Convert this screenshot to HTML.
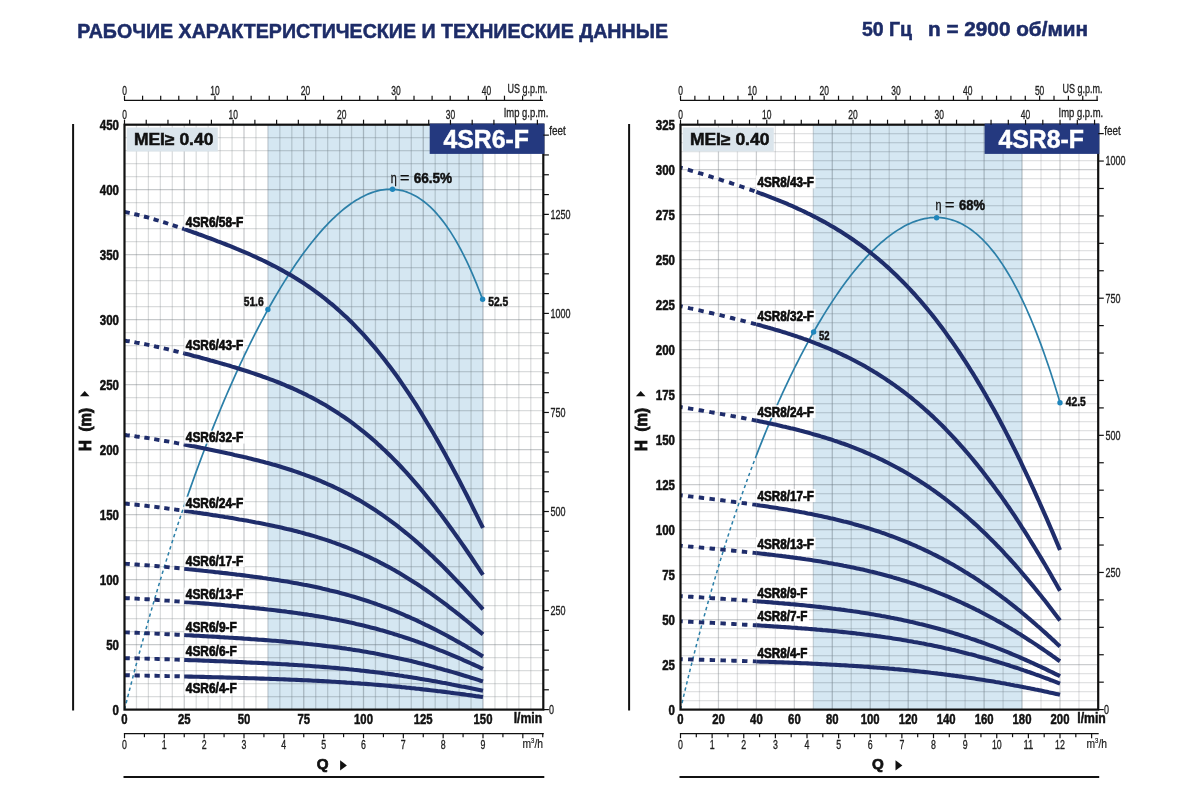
<!DOCTYPE html>
<html lang="ru"><head><meta charset="utf-8"><title>4SR6-F / 4SR8-F</title>
<style>html,body{margin:0;padding:0;background:#fff}body{width:1200px;height:800px;overflow:hidden;font-family:"Liberation Sans",sans-serif}svg{display:block}</style>
</head><body>
<svg width="1200" height="800" viewBox="0 0 1200 800" font-family="'Liberation Sans', sans-serif">
<rect width="1200" height="800" fill="#fff"/>
<text x="77.3" y="38.0" font-size="19.7" font-weight="bold" stroke="#1d2c68" stroke-width="0.5" textLength="590.7" lengthAdjust="spacingAndGlyphs" fill="#1d2c68">РАБОЧИЕ ХАРАКТЕРИСТИЧЕСКИЕ И ТЕХНИЕСКИЕ ДАННЫЕ</text>
<text x="861.9" y="36.0" font-size="19.4" font-weight="bold" stroke="#1d2c68" stroke-width="0.5" textLength="50.0" lengthAdjust="spacingAndGlyphs" fill="#1d2c68">50 Гц</text>
<text x="928.0" y="36.0" font-size="19.4" font-weight="bold" stroke="#1d2c68" stroke-width="0.5" textLength="160.0" lengthAdjust="spacingAndGlyphs" fill="#1d2c68">n = 2900 об/мин</text>
<rect x="267.9" y="124.7" width="215.1" height="584.9" fill="#d5e7f2"/>
<g stroke-width="1.25"><line x1="136.45" y1="124.7" x2="136.45" y2="709.6" stroke="#868b90" stroke-opacity="0.3"/><line x1="148.40" y1="124.7" x2="148.40" y2="709.6" stroke="#868b90" stroke-opacity="0.3"/><line x1="160.35" y1="124.7" x2="160.35" y2="709.6" stroke="#868b90" stroke-opacity="0.3"/><line x1="172.30" y1="124.7" x2="172.30" y2="709.6" stroke="#868b90" stroke-opacity="0.3"/><line x1="184.25" y1="124.7" x2="184.25" y2="709.6" stroke="#6a7076" stroke-opacity="0.38"/><line x1="196.20" y1="124.7" x2="196.20" y2="709.6" stroke="#868b90" stroke-opacity="0.3"/><line x1="208.15" y1="124.7" x2="208.15" y2="709.6" stroke="#868b90" stroke-opacity="0.3"/><line x1="220.10" y1="124.7" x2="220.10" y2="709.6" stroke="#868b90" stroke-opacity="0.3"/><line x1="232.05" y1="124.7" x2="232.05" y2="709.6" stroke="#868b90" stroke-opacity="0.3"/><line x1="244.00" y1="124.7" x2="244.00" y2="709.6" stroke="#6a7076" stroke-opacity="0.38"/><line x1="255.95" y1="124.7" x2="255.95" y2="709.6" stroke="#868b90" stroke-opacity="0.3"/><line x1="267.90" y1="124.7" x2="267.90" y2="709.6" stroke="#868b90" stroke-opacity="0.3"/><line x1="279.85" y1="124.7" x2="279.85" y2="709.6" stroke="#868b90" stroke-opacity="0.3"/><line x1="291.80" y1="124.7" x2="291.80" y2="709.6" stroke="#868b90" stroke-opacity="0.3"/><line x1="303.75" y1="124.7" x2="303.75" y2="709.6" stroke="#6a7076" stroke-opacity="0.38"/><line x1="315.70" y1="124.7" x2="315.70" y2="709.6" stroke="#868b90" stroke-opacity="0.3"/><line x1="327.65" y1="124.7" x2="327.65" y2="709.6" stroke="#868b90" stroke-opacity="0.3"/><line x1="339.60" y1="124.7" x2="339.60" y2="709.6" stroke="#868b90" stroke-opacity="0.3"/><line x1="351.55" y1="124.7" x2="351.55" y2="709.6" stroke="#868b90" stroke-opacity="0.3"/><line x1="363.50" y1="124.7" x2="363.50" y2="709.6" stroke="#6a7076" stroke-opacity="0.38"/><line x1="375.45" y1="124.7" x2="375.45" y2="709.6" stroke="#868b90" stroke-opacity="0.3"/><line x1="387.40" y1="124.7" x2="387.40" y2="709.6" stroke="#868b90" stroke-opacity="0.3"/><line x1="399.35" y1="124.7" x2="399.35" y2="709.6" stroke="#868b90" stroke-opacity="0.3"/><line x1="411.30" y1="124.7" x2="411.30" y2="709.6" stroke="#868b90" stroke-opacity="0.3"/><line x1="423.25" y1="124.7" x2="423.25" y2="709.6" stroke="#6a7076" stroke-opacity="0.38"/><line x1="435.20" y1="124.7" x2="435.20" y2="709.6" stroke="#868b90" stroke-opacity="0.3"/><line x1="447.15" y1="124.7" x2="447.15" y2="709.6" stroke="#868b90" stroke-opacity="0.3"/><line x1="459.10" y1="124.7" x2="459.10" y2="709.6" stroke="#868b90" stroke-opacity="0.3"/><line x1="471.05" y1="124.7" x2="471.05" y2="709.6" stroke="#868b90" stroke-opacity="0.3"/><line x1="483.00" y1="124.7" x2="483.00" y2="709.6" stroke="#6a7076" stroke-opacity="0.38"/><line x1="494.95" y1="124.7" x2="494.95" y2="709.6" stroke="#868b90" stroke-opacity="0.3"/><line x1="506.90" y1="124.7" x2="506.90" y2="709.6" stroke="#868b90" stroke-opacity="0.3"/><line x1="518.85" y1="124.7" x2="518.85" y2="709.6" stroke="#868b90" stroke-opacity="0.3"/><line x1="530.80" y1="124.7" x2="530.80" y2="709.6" stroke="#868b90" stroke-opacity="0.3"/><line x1="124.5" y1="696.60" x2="543.3" y2="696.60" stroke="#868b90" stroke-opacity="0.3"/><line x1="124.5" y1="683.60" x2="543.3" y2="683.60" stroke="#868b90" stroke-opacity="0.3"/><line x1="124.5" y1="670.61" x2="543.3" y2="670.61" stroke="#868b90" stroke-opacity="0.3"/><line x1="124.5" y1="657.61" x2="543.3" y2="657.61" stroke="#868b90" stroke-opacity="0.3"/><line x1="124.5" y1="644.61" x2="543.3" y2="644.61" stroke="#6a7076" stroke-opacity="0.38"/><line x1="124.5" y1="631.61" x2="543.3" y2="631.61" stroke="#868b90" stroke-opacity="0.3"/><line x1="124.5" y1="618.61" x2="543.3" y2="618.61" stroke="#868b90" stroke-opacity="0.3"/><line x1="124.5" y1="605.62" x2="543.3" y2="605.62" stroke="#868b90" stroke-opacity="0.3"/><line x1="124.5" y1="592.62" x2="543.3" y2="592.62" stroke="#868b90" stroke-opacity="0.3"/><line x1="124.5" y1="579.62" x2="543.3" y2="579.62" stroke="#6a7076" stroke-opacity="0.38"/><line x1="124.5" y1="566.62" x2="543.3" y2="566.62" stroke="#868b90" stroke-opacity="0.3"/><line x1="124.5" y1="553.62" x2="543.3" y2="553.62" stroke="#868b90" stroke-opacity="0.3"/><line x1="124.5" y1="540.63" x2="543.3" y2="540.63" stroke="#868b90" stroke-opacity="0.3"/><line x1="124.5" y1="527.63" x2="543.3" y2="527.63" stroke="#868b90" stroke-opacity="0.3"/><line x1="124.5" y1="514.63" x2="543.3" y2="514.63" stroke="#6a7076" stroke-opacity="0.38"/><line x1="124.5" y1="501.63" x2="543.3" y2="501.63" stroke="#868b90" stroke-opacity="0.3"/><line x1="124.5" y1="488.63" x2="543.3" y2="488.63" stroke="#868b90" stroke-opacity="0.3"/><line x1="124.5" y1="475.64" x2="543.3" y2="475.64" stroke="#868b90" stroke-opacity="0.3"/><line x1="124.5" y1="462.64" x2="543.3" y2="462.64" stroke="#868b90" stroke-opacity="0.3"/><line x1="124.5" y1="449.64" x2="543.3" y2="449.64" stroke="#6a7076" stroke-opacity="0.38"/><line x1="124.5" y1="436.64" x2="543.3" y2="436.64" stroke="#868b90" stroke-opacity="0.3"/><line x1="124.5" y1="423.64" x2="543.3" y2="423.64" stroke="#868b90" stroke-opacity="0.3"/><line x1="124.5" y1="410.65" x2="543.3" y2="410.65" stroke="#868b90" stroke-opacity="0.3"/><line x1="124.5" y1="397.65" x2="543.3" y2="397.65" stroke="#868b90" stroke-opacity="0.3"/><line x1="124.5" y1="384.65" x2="543.3" y2="384.65" stroke="#6a7076" stroke-opacity="0.38"/><line x1="124.5" y1="371.65" x2="543.3" y2="371.65" stroke="#868b90" stroke-opacity="0.3"/><line x1="124.5" y1="358.65" x2="543.3" y2="358.65" stroke="#868b90" stroke-opacity="0.3"/><line x1="124.5" y1="345.66" x2="543.3" y2="345.66" stroke="#868b90" stroke-opacity="0.3"/><line x1="124.5" y1="332.66" x2="543.3" y2="332.66" stroke="#868b90" stroke-opacity="0.3"/><line x1="124.5" y1="319.66" x2="543.3" y2="319.66" stroke="#6a7076" stroke-opacity="0.38"/><line x1="124.5" y1="306.66" x2="543.3" y2="306.66" stroke="#868b90" stroke-opacity="0.3"/><line x1="124.5" y1="293.66" x2="543.3" y2="293.66" stroke="#868b90" stroke-opacity="0.3"/><line x1="124.5" y1="280.67" x2="543.3" y2="280.67" stroke="#868b90" stroke-opacity="0.3"/><line x1="124.5" y1="267.67" x2="543.3" y2="267.67" stroke="#868b90" stroke-opacity="0.3"/><line x1="124.5" y1="254.67" x2="543.3" y2="254.67" stroke="#6a7076" stroke-opacity="0.38"/><line x1="124.5" y1="241.67" x2="543.3" y2="241.67" stroke="#868b90" stroke-opacity="0.3"/><line x1="124.5" y1="228.67" x2="543.3" y2="228.67" stroke="#868b90" stroke-opacity="0.3"/><line x1="124.5" y1="215.68" x2="543.3" y2="215.68" stroke="#868b90" stroke-opacity="0.3"/><line x1="124.5" y1="202.68" x2="543.3" y2="202.68" stroke="#868b90" stroke-opacity="0.3"/><line x1="124.5" y1="189.68" x2="543.3" y2="189.68" stroke="#6a7076" stroke-opacity="0.38"/><line x1="124.5" y1="176.68" x2="543.3" y2="176.68" stroke="#868b90" stroke-opacity="0.3"/><line x1="124.5" y1="163.68" x2="543.3" y2="163.68" stroke="#868b90" stroke-opacity="0.3"/><line x1="124.5" y1="150.69" x2="543.3" y2="150.69" stroke="#868b90" stroke-opacity="0.3"/><line x1="124.5" y1="137.69" x2="543.3" y2="137.69" stroke="#868b90" stroke-opacity="0.3"/></g>
<g stroke="#4f7290" stroke-opacity="0.08" stroke-width="1.25"><line x1="267.90" y1="124.7" x2="267.90" y2="709.6"/><line x1="279.85" y1="124.7" x2="279.85" y2="709.6"/><line x1="291.80" y1="124.7" x2="291.80" y2="709.6"/><line x1="303.75" y1="124.7" x2="303.75" y2="709.6"/><line x1="315.70" y1="124.7" x2="315.70" y2="709.6"/><line x1="327.65" y1="124.7" x2="327.65" y2="709.6"/><line x1="339.60" y1="124.7" x2="339.60" y2="709.6"/><line x1="351.55" y1="124.7" x2="351.55" y2="709.6"/><line x1="363.50" y1="124.7" x2="363.50" y2="709.6"/><line x1="375.45" y1="124.7" x2="375.45" y2="709.6"/><line x1="387.40" y1="124.7" x2="387.40" y2="709.6"/><line x1="399.35" y1="124.7" x2="399.35" y2="709.6"/><line x1="411.30" y1="124.7" x2="411.30" y2="709.6"/><line x1="423.25" y1="124.7" x2="423.25" y2="709.6"/><line x1="435.20" y1="124.7" x2="435.20" y2="709.6"/><line x1="447.15" y1="124.7" x2="447.15" y2="709.6"/><line x1="459.10" y1="124.7" x2="459.10" y2="709.6"/><line x1="471.05" y1="124.7" x2="471.05" y2="709.6"/><line x1="483.00" y1="124.7" x2="483.00" y2="709.6"/><line x1="267.90" y1="696.60" x2="483.00" y2="696.60"/><line x1="267.90" y1="683.60" x2="483.00" y2="683.60"/><line x1="267.90" y1="670.61" x2="483.00" y2="670.61"/><line x1="267.90" y1="657.61" x2="483.00" y2="657.61"/><line x1="267.90" y1="644.61" x2="483.00" y2="644.61"/><line x1="267.90" y1="631.61" x2="483.00" y2="631.61"/><line x1="267.90" y1="618.61" x2="483.00" y2="618.61"/><line x1="267.90" y1="605.62" x2="483.00" y2="605.62"/><line x1="267.90" y1="592.62" x2="483.00" y2="592.62"/><line x1="267.90" y1="579.62" x2="483.00" y2="579.62"/><line x1="267.90" y1="566.62" x2="483.00" y2="566.62"/><line x1="267.90" y1="553.62" x2="483.00" y2="553.62"/><line x1="267.90" y1="540.63" x2="483.00" y2="540.63"/><line x1="267.90" y1="527.63" x2="483.00" y2="527.63"/><line x1="267.90" y1="514.63" x2="483.00" y2="514.63"/><line x1="267.90" y1="501.63" x2="483.00" y2="501.63"/><line x1="267.90" y1="488.63" x2="483.00" y2="488.63"/><line x1="267.90" y1="475.64" x2="483.00" y2="475.64"/><line x1="267.90" y1="462.64" x2="483.00" y2="462.64"/><line x1="267.90" y1="449.64" x2="483.00" y2="449.64"/><line x1="267.90" y1="436.64" x2="483.00" y2="436.64"/><line x1="267.90" y1="423.64" x2="483.00" y2="423.64"/><line x1="267.90" y1="410.65" x2="483.00" y2="410.65"/><line x1="267.90" y1="397.65" x2="483.00" y2="397.65"/><line x1="267.90" y1="384.65" x2="483.00" y2="384.65"/><line x1="267.90" y1="371.65" x2="483.00" y2="371.65"/><line x1="267.90" y1="358.65" x2="483.00" y2="358.65"/><line x1="267.90" y1="345.66" x2="483.00" y2="345.66"/><line x1="267.90" y1="332.66" x2="483.00" y2="332.66"/><line x1="267.90" y1="319.66" x2="483.00" y2="319.66"/><line x1="267.90" y1="306.66" x2="483.00" y2="306.66"/><line x1="267.90" y1="293.66" x2="483.00" y2="293.66"/><line x1="267.90" y1="280.67" x2="483.00" y2="280.67"/><line x1="267.90" y1="267.67" x2="483.00" y2="267.67"/><line x1="267.90" y1="254.67" x2="483.00" y2="254.67"/><line x1="267.90" y1="241.67" x2="483.00" y2="241.67"/><line x1="267.90" y1="228.67" x2="483.00" y2="228.67"/><line x1="267.90" y1="215.68" x2="483.00" y2="215.68"/><line x1="267.90" y1="202.68" x2="483.00" y2="202.68"/><line x1="267.90" y1="189.68" x2="483.00" y2="189.68"/><line x1="267.90" y1="176.68" x2="483.00" y2="176.68"/><line x1="267.90" y1="163.68" x2="483.00" y2="163.68"/><line x1="267.90" y1="150.69" x2="483.00" y2="150.69"/><line x1="267.90" y1="137.69" x2="483.00" y2="137.69"/></g>
<rect x="126.8" y="127.5" width="91" height="24" fill="#dbe5ec"/>
<text x="133.9" y="144.5" font-size="16.2" font-weight="bold" stroke="#111" stroke-width="0.5" textLength="79.5" lengthAdjust="spacingAndGlyphs" fill="#111">MEI≥ 0.40</text>
<path d="M124.5 709.5 L126.5 701.7 L128.5 693.9 L130.5 686.2 L132.5 678.6 L134.5 671.0 L136.5 663.5 L138.5 656.1 L140.5 648.8 L142.5 641.5 L144.5 634.4 L146.5 627.2 L148.5 620.2 L150.5 613.2 L152.5 606.3 L154.5 599.5 L156.5 592.7 L158.5 586.0 L160.5 579.4 L162.5 572.8 L164.5 566.3 L166.5 559.9 L168.5 553.5 L170.5 547.2 L172.5 541.0 L174.5 534.8 L176.5 528.7 L178.5 522.6 L180.5 516.6 L182.5 510.7 L184.5 504.9" fill="none" stroke="#2b7fa8" stroke-width="1.5" stroke-dasharray="3.4 3"/>
<path d="M184.5 504.9 L186.5 499.1 L188.5 493.3 L190.5 487.6 L192.5 482.0 L194.5 476.4 L196.5 470.9 L198.5 465.5 L200.5 460.1 L202.5 454.7 L204.5 449.5 L206.5 444.2 L208.5 439.1 L210.5 434.0 L212.5 428.9 L214.5 423.9 L216.5 419.0 L218.5 414.1 L220.5 409.2 L222.5 404.4 L224.5 399.7 L226.5 395.0 L228.5 390.4 L230.5 385.8 L232.5 381.3 L234.5 376.8 L236.5 372.4 L238.5 368.0 L240.5 363.7 L242.5 359.5 L244.5 355.2 L246.5 351.1 L248.5 347.0 L250.5 342.9 L252.5 338.9 L254.5 334.9 L256.5 331.0 L258.5 327.1 L260.5 323.3 L262.5 319.6 L264.5 315.8 L266.5 312.2 L268.5 308.5 L270.5 305.0 L272.5 301.5 L274.5 298.0 L276.5 294.6 L278.5 291.2 L280.5 287.9 L282.5 284.6 L284.5 281.4 L286.5 278.2 L288.5 275.1 L290.5 272.0 L292.5 269.0 L294.5 266.0 L296.5 263.0 L298.5 260.2 L300.5 257.3 L302.5 254.6 L304.5 251.8 L306.5 249.2 L308.5 246.5 L310.5 244.0 L312.5 241.5 L314.5 239.0 L316.5 236.6 L318.5 234.2 L320.5 231.9 L322.5 229.6 L324.5 227.4 L326.5 225.3 L328.5 223.2 L330.5 221.2 L332.5 219.2 L334.5 217.3 L336.5 215.4 L338.5 213.6 L340.5 211.9 L342.5 210.2 L344.5 208.5 L346.5 207.0 L348.5 205.5 L350.5 204.0 L352.5 202.6 L354.5 201.3 L356.5 200.0 L358.5 198.9 L360.5 197.7 L362.5 196.7 L364.5 195.7 L366.5 194.7 L368.5 193.9 L370.5 193.1 L372.5 192.4 L374.5 191.7 L376.5 191.1 L378.5 190.6 L380.5 190.2 L382.5 189.9 L384.5 189.6 L386.5 189.4 L388.5 189.3 L390.5 189.2 L392.5 189.3 L394.5 189.4 L396.5 189.6 L398.5 189.9 L400.5 190.3 L402.5 190.7 L404.5 191.3 L406.5 191.9 L408.5 192.7 L410.5 193.5 L412.5 194.4 L414.5 195.4 L416.5 196.5 L418.5 197.7 L420.5 199.1 L422.5 200.5 L424.5 202.0 L426.5 203.6 L428.5 205.3 L430.5 207.2 L432.5 209.1 L434.5 211.2 L436.5 213.4 L438.5 215.7 L440.5 218.1 L442.5 220.6 L444.5 223.2 L446.5 226.0 L448.5 228.9 L450.5 231.9 L452.5 235.1 L454.5 238.4 L456.5 241.8 L458.5 245.3 L460.5 249.0 L462.5 252.8 L464.5 256.8 L466.5 260.9 L468.5 265.2 L470.5 269.6 L472.5 274.1 L474.5 278.9 L476.5 283.7 L478.5 288.7 L480.5 293.9 L482.5 299.3" fill="none" stroke="#2b7fa8" stroke-width="1.7"/>
<circle cx="267.9" cy="309.5" r="2.7" fill="#1f86bc"/>
<circle cx="392.5" cy="189.2" r="2.7" fill="#1f86bc"/>
<circle cx="482.6" cy="299.3" r="2.7" fill="#1f86bc"/>
<path d="M124.5 211.9 L126.9 212.4 L129.3 212.9 L131.7 213.4 L134.1 214.0 L136.4 214.5 L138.8 215.1 L141.2 215.7 L143.6 216.4 L146.0 217.0 L148.4 217.7 L150.8 218.4 L153.2 219.1 L155.6 219.8 L158.0 220.5 L160.3 221.2 L162.7 222.0 L165.1 222.7 L167.5 223.5 L169.9 224.3 L172.3 225.1 L174.7 225.9 L177.1 226.7 L179.5 227.5 L181.9 228.3 L184.2 229.1" fill="none" stroke="#1f2d6b" stroke-width="3.9" stroke-dasharray="5.3 4.7" stroke-dashoffset="0"/>
<path d="M184.2 229.1 L186.6 229.9 L189.0 230.8 L191.4 231.6 L193.8 232.5 L196.2 233.3 L198.6 234.2 L201.0 235.0 L203.4 235.9 L205.8 236.8 L208.2 237.7 L210.5 238.5 L212.9 239.4 L215.3 240.3 L217.7 241.3 L220.1 242.2 L222.5 243.1 L224.9 244.0 L227.3 245.0 L229.7 245.9 L232.1 246.9 L234.4 247.9 L236.8 248.9 L239.2 249.8 L241.6 250.9 L244.0 251.9 L246.4 252.9 L248.8 253.9 L251.2 255.0 L253.6 256.1 L256.0 257.2 L258.3 258.3 L260.7 259.4 L263.1 260.5 L265.5 261.7 L267.9 262.9 L270.3 264.1 L272.7 265.3 L275.1 266.5 L277.5 267.8 L279.9 269.1 L282.2 270.4 L284.6 271.7 L287.0 273.1 L289.4 274.4 L291.8 275.8 L294.2 277.3 L296.6 278.7 L299.0 280.2 L301.4 281.8 L303.8 283.3 L306.1 284.9 L308.5 286.5 L310.9 288.2 L313.3 289.9 L315.7 291.6 L318.1 293.4 L320.5 295.2 L322.9 297.0 L325.3 298.9 L327.6 300.8 L330.0 302.8 L332.4 304.7 L334.8 306.8 L337.2 308.9 L339.6 311.0 L342.0 313.2 L344.4 315.4 L346.8 317.6 L349.2 319.9 L351.6 322.3 L353.9 324.7 L356.3 327.1 L358.7 329.6 L361.1 332.1 L363.5 334.7 L365.9 337.4 L368.3 340.0 L370.7 342.8 L373.1 345.6 L375.5 348.4 L377.8 351.3 L380.2 354.2 L382.6 357.2 L385.0 360.3 L387.4 363.4 L389.8 366.5 L392.2 369.7 L394.6 373.0 L397.0 376.3 L399.4 379.7 L401.7 383.1 L404.1 386.6 L406.5 390.1 L408.9 393.7 L411.3 397.3 L413.7 401.0 L416.1 404.7 L418.5 408.5 L420.9 412.4 L423.2 416.2 L425.6 420.2 L428.0 424.2 L430.4 428.2 L432.8 432.3 L435.2 436.5 L437.6 440.6 L440.0 444.9 L442.4 449.2 L444.8 453.5 L447.2 457.9 L449.5 462.3 L451.9 466.7 L454.3 471.2 L456.7 475.8 L459.1 480.3 L461.5 485.0 L463.9 489.6 L466.3 494.3 L468.7 499.0 L471.1 503.8 L473.4 508.6 L475.8 513.4 L478.2 518.2 L480.6 523.1 L483.0 527.9" fill="none" stroke="#1f2d6b" stroke-width="4.1"/>
<path d="M124.5 340.6 L126.9 341.0 L129.3 341.3 L131.7 341.7 L134.1 342.1 L136.4 342.6 L138.8 343.0 L141.2 343.5 L143.6 343.9 L146.0 344.4 L148.4 344.9 L150.8 345.4 L153.2 345.9 L155.6 346.5 L158.0 347.0 L160.3 347.5 L162.7 348.1 L165.1 348.7 L167.5 349.2 L169.9 349.8 L172.3 350.4 L174.7 351.0 L177.1 351.6 L179.5 352.2 L181.9 352.8 L184.2 353.4" fill="none" stroke="#1f2d6b" stroke-width="3.9" stroke-dasharray="5.3 4.7" stroke-dashoffset="0"/>
<path d="M184.2 353.4 L186.6 354.0 L189.0 354.6 L191.4 355.2 L193.8 355.9 L196.2 356.5 L198.6 357.1 L201.0 357.8 L203.4 358.4 L205.8 359.1 L208.2 359.7 L210.5 360.4 L212.9 361.0 L215.3 361.7 L217.7 362.4 L220.1 363.1 L222.5 363.8 L224.9 364.4 L227.3 365.1 L229.7 365.8 L232.1 366.6 L234.4 367.3 L236.8 368.0 L239.2 368.7 L241.6 369.5 L244.0 370.3 L246.4 371.0 L248.8 371.8 L251.2 372.6 L253.6 373.4 L256.0 374.2 L258.3 375.0 L260.7 375.8 L263.1 376.7 L265.5 377.5 L267.9 378.4 L270.3 379.3 L272.7 380.2 L275.1 381.1 L277.5 382.0 L279.9 383.0 L282.2 384.0 L284.6 384.9 L287.0 386.0 L289.4 387.0 L291.8 388.0 L294.2 389.1 L296.6 390.2 L299.0 391.3 L301.4 392.4 L303.8 393.6 L306.1 394.7 L308.5 396.0 L310.9 397.2 L313.3 398.4 L315.7 399.7 L318.1 401.0 L320.5 402.4 L322.9 403.7 L325.3 405.1 L327.6 406.5 L330.0 408.0 L332.4 409.5 L334.8 411.0 L337.2 412.5 L339.6 414.1 L342.0 415.7 L344.4 417.3 L346.8 419.0 L349.2 420.7 L351.6 422.4 L353.9 424.2 L356.3 426.0 L358.7 427.9 L361.1 429.8 L363.5 431.7 L365.9 433.6 L368.3 435.6 L370.7 437.6 L373.1 439.7 L375.5 441.8 L377.8 444.0 L380.2 446.1 L382.6 448.4 L385.0 450.6 L387.4 452.9 L389.8 455.3 L392.2 457.6 L394.6 460.1 L397.0 462.5 L399.4 465.0 L401.7 467.5 L404.1 470.1 L406.5 472.7 L408.9 475.4 L411.3 478.1 L413.7 480.8 L416.1 483.6 L418.5 486.4 L420.9 489.2 L423.2 492.1 L425.6 495.0 L428.0 498.0 L430.4 501.0 L432.8 504.0 L435.2 507.1 L437.6 510.2 L440.0 513.3 L442.4 516.5 L444.8 519.7 L447.2 523.0 L449.5 526.2 L451.9 529.5 L454.3 532.9 L456.7 536.2 L459.1 539.6 L461.5 543.1 L463.9 546.5 L466.3 550.0 L468.7 553.5 L471.1 557.0 L473.4 560.5 L475.8 564.1 L478.2 567.7 L480.6 571.3 L483.0 574.9" fill="none" stroke="#1f2d6b" stroke-width="4.1"/>
<path d="M124.5 435.0 L126.9 435.3 L129.3 435.5 L131.7 435.8 L134.1 436.1 L136.4 436.5 L138.8 436.8 L141.2 437.1 L143.6 437.5 L146.0 437.8 L148.4 438.2 L150.8 438.6 L153.2 439.0 L155.6 439.4 L158.0 439.8 L160.3 440.2 L162.7 440.6 L165.1 441.0 L167.5 441.4 L169.9 441.8 L172.3 442.3 L174.7 442.7 L177.1 443.2 L179.5 443.6 L181.9 444.0 L184.2 444.5" fill="none" stroke="#1f2d6b" stroke-width="3.9" stroke-dasharray="5.3 4.7" stroke-dashoffset="0"/>
<path d="M184.2 444.5 L186.6 445.0 L189.0 445.4 L191.4 445.9 L193.8 446.3 L196.2 446.8 L198.6 447.3 L201.0 447.8 L203.4 448.2 L205.8 448.7 L208.2 449.2 L210.5 449.7 L212.9 450.2 L215.3 450.7 L217.7 451.2 L220.1 451.7 L222.5 452.2 L224.9 452.7 L227.3 453.3 L229.7 453.8 L232.1 454.3 L234.4 454.9 L236.8 455.4 L239.2 455.9 L241.6 456.5 L244.0 457.1 L246.4 457.6 L248.8 458.2 L251.2 458.8 L253.6 459.4 L256.0 460.0 L258.3 460.6 L260.7 461.2 L263.1 461.8 L265.5 462.5 L267.9 463.1 L270.3 463.8 L272.7 464.5 L275.1 465.1 L277.5 465.8 L279.9 466.5 L282.2 467.3 L284.6 468.0 L287.0 468.7 L289.4 469.5 L291.8 470.3 L294.2 471.1 L296.6 471.9 L299.0 472.7 L301.4 473.6 L303.8 474.4 L306.1 475.3 L308.5 476.2 L310.9 477.1 L313.3 478.0 L315.7 479.0 L318.1 480.0 L320.5 480.9 L322.9 482.0 L325.3 483.0 L327.6 484.1 L330.0 485.1 L332.4 486.2 L334.8 487.4 L337.2 488.5 L339.6 489.7 L342.0 490.9 L344.4 492.1 L346.8 493.3 L349.2 494.6 L351.6 495.9 L353.9 497.2 L356.3 498.6 L358.7 499.9 L361.1 501.3 L363.5 502.8 L365.9 504.2 L368.3 505.7 L370.7 507.2 L373.1 508.8 L375.5 510.3 L377.8 511.9 L380.2 513.5 L382.6 515.2 L385.0 516.9 L387.4 518.6 L389.8 520.3 L392.2 522.1 L394.6 523.9 L397.0 525.7 L399.4 527.6 L401.7 529.5 L404.1 531.4 L406.5 533.3 L408.9 535.3 L411.3 537.3 L413.7 539.3 L416.1 541.4 L418.5 543.5 L420.9 545.6 L423.2 547.7 L425.6 549.9 L428.0 552.1 L430.4 554.4 L432.8 556.6 L435.2 558.9 L437.6 561.2 L440.0 563.5 L442.4 565.9 L444.8 568.3 L447.2 570.7 L449.5 573.1 L451.9 575.6 L454.3 578.1 L456.7 580.6 L459.1 583.1 L461.5 585.7 L463.9 588.2 L466.3 590.8 L468.7 593.4 L471.1 596.0 L473.4 598.7 L475.8 601.3 L478.2 604.0 L480.6 606.7 L483.0 609.4" fill="none" stroke="#1f2d6b" stroke-width="4.1"/>
<path d="M124.5 503.6 L126.9 503.8 L129.3 504.1 L131.7 504.3 L134.1 504.5 L136.4 504.7 L138.8 505.0 L141.2 505.2 L143.6 505.5 L146.0 505.8 L148.4 506.1 L150.8 506.3 L153.2 506.6 L155.6 506.9 L158.0 507.2 L160.3 507.5 L162.7 507.8 L165.1 508.1 L167.5 508.5 L169.9 508.8 L172.3 509.1 L174.7 509.4 L177.1 509.8 L179.5 510.1 L181.9 510.4 L184.2 510.8" fill="none" stroke="#1f2d6b" stroke-width="3.9" stroke-dasharray="5.3 4.7" stroke-dashoffset="0"/>
<path d="M184.2 510.8 L186.6 511.1 L189.0 511.5 L191.4 511.8 L193.8 512.2 L196.2 512.5 L198.6 512.9 L201.0 513.2 L203.4 513.6 L205.8 513.9 L208.2 514.3 L210.5 514.7 L212.9 515.1 L215.3 515.4 L217.7 515.8 L220.1 516.2 L222.5 516.6 L224.9 517.0 L227.3 517.3 L229.7 517.7 L232.1 518.1 L234.4 518.5 L236.8 518.9 L239.2 519.4 L241.6 519.8 L244.0 520.2 L246.4 520.6 L248.8 521.1 L251.2 521.5 L253.6 521.9 L256.0 522.4 L258.3 522.8 L260.7 523.3 L263.1 523.8 L265.5 524.3 L267.9 524.7 L270.3 525.2 L272.7 525.7 L275.1 526.3 L277.5 526.8 L279.9 527.3 L282.2 527.8 L284.6 528.4 L287.0 529.0 L289.4 529.5 L291.8 530.1 L294.2 530.7 L296.6 531.3 L299.0 531.9 L301.4 532.6 L303.8 533.2 L306.1 533.9 L308.5 534.5 L310.9 535.2 L313.3 535.9 L315.7 536.6 L318.1 537.4 L320.5 538.1 L322.9 538.9 L325.3 539.6 L327.6 540.4 L330.0 541.2 L332.4 542.1 L334.8 542.9 L337.2 543.8 L339.6 544.7 L342.0 545.6 L344.4 546.5 L346.8 547.4 L349.2 548.4 L351.6 549.3 L353.9 550.3 L356.3 551.3 L358.7 552.4 L361.1 553.4 L363.5 554.5 L365.9 555.6 L368.3 556.7 L370.7 557.8 L373.1 559.0 L375.5 560.1 L377.8 561.3 L380.2 562.6 L382.6 563.8 L385.0 565.1 L387.4 566.3 L389.8 567.6 L392.2 569.0 L394.6 570.3 L397.0 571.7 L399.4 573.1 L401.7 574.5 L404.1 575.9 L406.5 577.4 L408.9 578.9 L411.3 580.4 L413.7 581.9 L416.1 583.4 L418.5 585.0 L420.9 586.6 L423.2 588.2 L425.6 589.8 L428.0 591.5 L430.4 593.2 L432.8 594.9 L435.2 596.6 L437.6 598.3 L440.0 600.1 L442.4 601.8 L444.8 603.6 L447.2 605.4 L449.5 607.3 L451.9 609.1 L454.3 611.0 L456.7 612.8 L459.1 614.7 L461.5 616.6 L463.9 618.6 L466.3 620.5 L468.7 622.5 L471.1 624.4 L473.4 626.4 L475.8 628.4 L478.2 630.4 L480.6 632.4 L483.0 634.4" fill="none" stroke="#1f2d6b" stroke-width="4.1"/>
<path d="M124.5 563.7 L126.9 563.9 L129.3 564.0 L131.7 564.2 L134.1 564.3 L136.4 564.5 L138.8 564.7 L141.2 564.8 L143.6 565.0 L146.0 565.2 L148.4 565.4 L150.8 565.6 L153.2 565.8 L155.6 566.0 L158.0 566.2 L160.3 566.5 L162.7 566.7 L165.1 566.9 L167.5 567.1 L169.9 567.4 L172.3 567.6 L174.7 567.8 L177.1 568.0 L179.5 568.3 L181.9 568.5 L184.2 568.8" fill="none" stroke="#1f2d6b" stroke-width="3.9" stroke-dasharray="5.3 4.7" stroke-dashoffset="0"/>
<path d="M184.2 568.8 L186.6 569.0 L189.0 569.3 L191.4 569.5 L193.8 569.7 L196.2 570.0 L198.6 570.2 L201.0 570.5 L203.4 570.8 L205.8 571.0 L208.2 571.3 L210.5 571.5 L212.9 571.8 L215.3 572.1 L217.7 572.3 L220.1 572.6 L222.5 572.9 L224.9 573.1 L227.3 573.4 L229.7 573.7 L232.1 574.0 L234.4 574.3 L236.8 574.6 L239.2 574.8 L241.6 575.1 L244.0 575.4 L246.4 575.7 L248.8 576.0 L251.2 576.4 L253.6 576.7 L256.0 577.0 L258.3 577.3 L260.7 577.6 L263.1 578.0 L265.5 578.3 L267.9 578.7 L270.3 579.0 L272.7 579.4 L275.1 579.7 L277.5 580.1 L279.9 580.5 L282.2 580.9 L284.6 581.2 L287.0 581.6 L289.4 582.1 L291.8 582.5 L294.2 582.9 L296.6 583.3 L299.0 583.8 L301.4 584.2 L303.8 584.7 L306.1 585.1 L308.5 585.6 L310.9 586.1 L313.3 586.6 L315.7 587.1 L318.1 587.6 L320.5 588.1 L322.9 588.7 L325.3 589.2 L327.6 589.8 L330.0 590.4 L332.4 590.9 L334.8 591.5 L337.2 592.1 L339.6 592.8 L342.0 593.4 L344.4 594.0 L346.8 594.7 L349.2 595.4 L351.6 596.1 L353.9 596.8 L356.3 597.5 L358.7 598.2 L361.1 599.0 L363.5 599.7 L365.9 600.5 L368.3 601.3 L370.7 602.1 L373.1 602.9 L375.5 603.7 L377.8 604.6 L380.2 605.4 L382.6 606.3 L385.0 607.2 L387.4 608.1 L389.8 609.0 L392.2 610.0 L394.6 610.9 L397.0 611.9 L399.4 612.9 L401.7 613.9 L404.1 614.9 L406.5 616.0 L408.9 617.0 L411.3 618.1 L413.7 619.1 L416.1 620.2 L418.5 621.4 L420.9 622.5 L423.2 623.6 L425.6 624.8 L428.0 625.9 L430.4 627.1 L432.8 628.3 L435.2 629.5 L437.6 630.8 L440.0 632.0 L442.4 633.3 L444.8 634.5 L447.2 635.8 L449.5 637.1 L451.9 638.4 L454.3 639.7 L456.7 641.1 L459.1 642.4 L461.5 643.8 L463.9 645.1 L466.3 646.5 L468.7 647.9 L471.1 649.3 L473.4 650.7 L475.8 652.1 L478.2 653.5 L480.6 654.9 L483.0 656.4" fill="none" stroke="#1f2d6b" stroke-width="4.1"/>
<path d="M124.5 598.0 L126.9 598.2 L129.3 598.3 L131.7 598.4 L134.1 598.5 L136.4 598.6 L138.8 598.8 L141.2 598.9 L143.6 599.1 L146.0 599.2 L148.4 599.3 L150.8 599.5 L153.2 599.7 L155.6 599.8 L158.0 600.0 L160.3 600.1 L162.7 600.3 L165.1 600.5 L167.5 600.6 L169.9 600.8 L172.3 601.0 L174.7 601.2 L177.1 601.4 L179.5 601.5 L181.9 601.7 L184.2 601.9" fill="none" stroke="#1f2d6b" stroke-width="3.9" stroke-dasharray="5.3 4.7" stroke-dashoffset="0"/>
<path d="M184.2 601.9 L186.6 602.1 L189.0 602.3 L191.4 602.5 L193.8 602.7 L196.2 602.8 L198.6 603.0 L201.0 603.2 L203.4 603.4 L205.8 603.6 L208.2 603.8 L210.5 604.0 L212.9 604.2 L215.3 604.4 L217.7 604.6 L220.1 604.8 L222.5 605.0 L224.9 605.3 L227.3 605.5 L229.7 605.7 L232.1 605.9 L234.4 606.1 L236.8 606.3 L239.2 606.6 L241.6 606.8 L244.0 607.0 L246.4 607.2 L248.8 607.5 L251.2 607.7 L253.6 607.9 L256.0 608.2 L258.3 608.4 L260.7 608.7 L263.1 608.9 L265.5 609.2 L267.9 609.5 L270.3 609.7 L272.7 610.0 L275.1 610.3 L277.5 610.6 L279.9 610.9 L282.2 611.2 L284.6 611.4 L287.0 611.8 L289.4 612.1 L291.8 612.4 L294.2 612.7 L296.6 613.0 L299.0 613.4 L301.4 613.7 L303.8 614.1 L306.1 614.4 L308.5 614.8 L310.9 615.1 L313.3 615.5 L315.7 615.9 L318.1 616.3 L320.5 616.7 L322.9 617.1 L325.3 617.5 L327.6 618.0 L330.0 618.4 L332.4 618.9 L334.8 619.3 L337.2 619.8 L339.6 620.3 L342.0 620.7 L344.4 621.2 L346.8 621.7 L349.2 622.3 L351.6 622.8 L353.9 623.3 L356.3 623.9 L358.7 624.4 L361.1 625.0 L363.5 625.6 L365.9 626.2 L368.3 626.8 L370.7 627.4 L373.1 628.0 L375.5 628.6 L377.8 629.3 L380.2 630.0 L382.6 630.6 L385.0 631.3 L387.4 632.0 L389.8 632.7 L392.2 633.4 L394.6 634.2 L397.0 634.9 L399.4 635.7 L401.7 636.4 L404.1 637.2 L406.5 638.0 L408.9 638.8 L411.3 639.6 L413.7 640.4 L416.1 641.3 L418.5 642.1 L420.9 643.0 L423.2 643.8 L425.6 644.7 L428.0 645.6 L430.4 646.5 L432.8 647.4 L435.2 648.4 L437.6 649.3 L440.0 650.3 L442.4 651.2 L444.8 652.2 L447.2 653.2 L449.5 654.2 L451.9 655.2 L454.3 656.2 L456.7 657.2 L459.1 658.2 L461.5 659.2 L463.9 660.3 L466.3 661.3 L468.7 662.4 L471.1 663.5 L473.4 664.5 L475.8 665.6 L478.2 666.7 L480.6 667.8 L483.0 668.9" fill="none" stroke="#1f2d6b" stroke-width="4.1"/>
<path d="M124.5 632.4 L126.9 632.4 L129.3 632.5 L131.7 632.6 L134.1 632.7 L136.4 632.8 L138.8 632.9 L141.2 633.0 L143.6 633.1 L146.0 633.2 L148.4 633.3 L150.8 633.4 L153.2 633.5 L155.6 633.6 L158.0 633.7 L160.3 633.8 L162.7 633.9 L165.1 634.1 L167.5 634.2 L169.9 634.3 L172.3 634.4 L174.7 634.5 L177.1 634.7 L179.5 634.8 L181.9 634.9 L184.2 635.0" fill="none" stroke="#1f2d6b" stroke-width="3.9" stroke-dasharray="5.3 4.7" stroke-dashoffset="0"/>
<path d="M184.2 635.0 L186.6 635.2 L189.0 635.3 L191.4 635.4 L193.8 635.6 L196.2 635.7 L198.6 635.8 L201.0 636.0 L203.4 636.1 L205.8 636.2 L208.2 636.4 L210.5 636.5 L212.9 636.6 L215.3 636.8 L217.7 636.9 L220.1 637.1 L222.5 637.2 L224.9 637.4 L227.3 637.5 L229.7 637.7 L232.1 637.8 L234.4 638.0 L236.8 638.1 L239.2 638.3 L241.6 638.4 L244.0 638.6 L246.4 638.7 L248.8 638.9 L251.2 639.1 L253.6 639.2 L256.0 639.4 L258.3 639.6 L260.7 639.7 L263.1 639.9 L265.5 640.1 L267.9 640.3 L270.3 640.5 L272.7 640.7 L275.1 640.8 L277.5 641.0 L279.9 641.2 L282.2 641.4 L284.6 641.6 L287.0 641.9 L289.4 642.1 L291.8 642.3 L294.2 642.5 L296.6 642.7 L299.0 643.0 L301.4 643.2 L303.8 643.5 L306.1 643.7 L308.5 644.0 L310.9 644.2 L313.3 644.5 L315.7 644.7 L318.1 645.0 L320.5 645.3 L322.9 645.6 L325.3 645.9 L327.6 646.2 L330.0 646.5 L332.4 646.8 L334.8 647.1 L337.2 647.4 L339.6 647.7 L342.0 648.1 L344.4 648.4 L346.8 648.8 L349.2 649.1 L351.6 649.5 L353.9 649.9 L356.3 650.2 L358.7 650.6 L361.1 651.0 L363.5 651.4 L365.9 651.8 L368.3 652.3 L370.7 652.7 L373.1 653.1 L375.5 653.6 L377.8 654.0 L380.2 654.5 L382.6 654.9 L385.0 655.4 L387.4 655.9 L389.8 656.4 L392.2 656.9 L394.6 657.4 L397.0 657.9 L399.4 658.4 L401.7 658.9 L404.1 659.5 L406.5 660.0 L408.9 660.6 L411.3 661.1 L413.7 661.7 L416.1 662.3 L418.5 662.9 L420.9 663.5 L423.2 664.1 L425.6 664.7 L428.0 665.3 L430.4 665.9 L432.8 666.6 L435.2 667.2 L437.6 667.9 L440.0 668.5 L442.4 669.2 L444.8 669.9 L447.2 670.5 L449.5 671.2 L451.9 671.9 L454.3 672.6 L456.7 673.3 L459.1 674.0 L461.5 674.7 L463.9 675.5 L466.3 676.2 L468.7 676.9 L471.1 677.7 L473.4 678.4 L475.8 679.1 L478.2 679.9 L480.6 680.7 L483.0 681.4" fill="none" stroke="#1f2d6b" stroke-width="4.1"/>
<path d="M124.5 658.1 L126.9 658.2 L129.3 658.2 L131.7 658.3 L134.1 658.3 L136.4 658.4 L138.8 658.4 L141.2 658.5 L143.6 658.6 L146.0 658.6 L148.4 658.7 L150.8 658.8 L153.2 658.9 L155.6 658.9 L158.0 659.0 L160.3 659.1 L162.7 659.2 L165.1 659.2 L167.5 659.3 L169.9 659.4 L172.3 659.5 L174.7 659.6 L177.1 659.6 L179.5 659.7 L181.9 659.8 L184.2 659.9" fill="none" stroke="#1f2d6b" stroke-width="3.9" stroke-dasharray="5.3 4.7" stroke-dashoffset="0"/>
<path d="M184.2 659.9 L186.6 660.0 L189.0 660.1 L191.4 660.2 L193.8 660.2 L196.2 660.3 L198.6 660.4 L201.0 660.5 L203.4 660.6 L205.8 660.7 L208.2 660.8 L210.5 660.9 L212.9 661.0 L215.3 661.1 L217.7 661.2 L220.1 661.2 L222.5 661.3 L224.9 661.4 L227.3 661.5 L229.7 661.6 L232.1 661.7 L234.4 661.8 L236.8 661.9 L239.2 662.0 L241.6 662.1 L244.0 662.2 L246.4 662.4 L248.8 662.5 L251.2 662.6 L253.6 662.7 L256.0 662.8 L258.3 662.9 L260.7 663.0 L263.1 663.1 L265.5 663.3 L267.9 663.4 L270.3 663.5 L272.7 663.6 L275.1 663.8 L277.5 663.9 L279.9 664.0 L282.2 664.2 L284.6 664.3 L287.0 664.4 L289.4 664.6 L291.8 664.7 L294.2 664.9 L296.6 665.0 L299.0 665.2 L301.4 665.3 L303.8 665.5 L306.1 665.7 L308.5 665.8 L310.9 666.0 L313.3 666.2 L315.7 666.4 L318.1 666.5 L320.5 666.7 L322.9 666.9 L325.3 667.1 L327.6 667.3 L330.0 667.5 L332.4 667.7 L334.8 667.9 L337.2 668.1 L339.6 668.4 L342.0 668.6 L344.4 668.8 L346.8 669.0 L349.2 669.3 L351.6 669.5 L353.9 669.8 L356.3 670.0 L358.7 670.3 L361.1 670.6 L363.5 670.8 L365.9 671.1 L368.3 671.4 L370.7 671.7 L373.1 671.9 L375.5 672.2 L377.8 672.5 L380.2 672.8 L382.6 673.1 L385.0 673.5 L387.4 673.8 L389.8 674.1 L392.2 674.4 L394.6 674.8 L397.0 675.1 L399.4 675.5 L401.7 675.8 L404.1 676.2 L406.5 676.5 L408.9 676.9 L411.3 677.3 L413.7 677.7 L416.1 678.1 L418.5 678.5 L420.9 678.9 L423.2 679.3 L425.6 679.7 L428.0 680.1 L430.4 680.5 L432.8 680.9 L435.2 681.3 L437.6 681.8 L440.0 682.2 L442.4 682.7 L444.8 683.1 L447.2 683.6 L449.5 684.0 L451.9 684.5 L454.3 684.9 L456.7 685.4 L459.1 685.9 L461.5 686.4 L463.9 686.8 L466.3 687.3 L468.7 687.8 L471.1 688.3 L473.4 688.8 L475.8 689.3 L478.2 689.8 L480.6 690.3 L483.0 690.8" fill="none" stroke="#1f2d6b" stroke-width="4.1"/>
<path d="M124.5 675.3 L126.9 675.3 L129.3 675.3 L131.7 675.4 L134.1 675.4 L136.4 675.5 L138.8 675.5 L141.2 675.5 L143.6 675.6 L146.0 675.6 L148.4 675.7 L150.8 675.7 L153.2 675.8 L155.6 675.8 L158.0 675.9 L160.3 675.9 L162.7 676.0 L165.1 676.0 L167.5 676.1 L169.9 676.1 L172.3 676.2 L174.7 676.2 L177.1 676.3 L179.5 676.3 L181.9 676.4 L184.2 676.5" fill="none" stroke="#1f2d6b" stroke-width="3.9" stroke-dasharray="5.3 4.7" stroke-dashoffset="0"/>
<path d="M184.2 676.5 L186.6 676.5 L189.0 676.6 L191.4 676.6 L193.8 676.7 L196.2 676.8 L198.6 676.8 L201.0 676.9 L203.4 676.9 L205.8 677.0 L208.2 677.1 L210.5 677.1 L212.9 677.2 L215.3 677.2 L217.7 677.3 L220.1 677.4 L222.5 677.4 L224.9 677.5 L227.3 677.6 L229.7 677.6 L232.1 677.7 L234.4 677.8 L236.8 677.8 L239.2 677.9 L241.6 678.0 L244.0 678.0 L246.4 678.1 L248.8 678.2 L251.2 678.2 L253.6 678.3 L256.0 678.4 L258.3 678.5 L260.7 678.6 L263.1 678.6 L265.5 678.7 L267.9 678.8 L270.3 678.9 L272.7 679.0 L275.1 679.0 L277.5 679.1 L279.9 679.2 L282.2 679.3 L284.6 679.4 L287.0 679.5 L289.4 679.6 L291.8 679.7 L294.2 679.8 L296.6 679.9 L299.0 680.0 L301.4 680.1 L303.8 680.2 L306.1 680.3 L308.5 680.4 L310.9 680.5 L313.3 680.7 L315.7 680.8 L318.1 680.9 L320.5 681.0 L322.9 681.1 L325.3 681.3 L327.6 681.4 L330.0 681.5 L332.4 681.7 L334.8 681.8 L337.2 682.0 L339.6 682.1 L342.0 682.3 L344.4 682.4 L346.8 682.6 L349.2 682.7 L351.6 682.9 L353.9 683.1 L356.3 683.2 L358.7 683.4 L361.1 683.6 L363.5 683.7 L365.9 683.9 L368.3 684.1 L370.7 684.3 L373.1 684.5 L375.5 684.7 L377.8 684.9 L380.2 685.1 L382.6 685.3 L385.0 685.5 L387.4 685.7 L389.8 685.9 L392.2 686.2 L394.6 686.4 L397.0 686.6 L399.4 686.8 L401.7 687.1 L404.1 687.3 L406.5 687.6 L408.9 687.8 L411.3 688.1 L413.7 688.3 L416.1 688.6 L418.5 688.8 L420.9 689.1 L423.2 689.4 L425.6 689.6 L428.0 689.9 L430.4 690.2 L432.8 690.5 L435.2 690.8 L437.6 691.1 L440.0 691.3 L442.4 691.6 L444.8 691.9 L447.2 692.2 L449.5 692.5 L451.9 692.9 L454.3 693.2 L456.7 693.5 L459.1 693.8 L461.5 694.1 L463.9 694.4 L466.3 694.8 L468.7 695.1 L471.1 695.4 L473.4 695.7 L475.8 696.1 L478.2 696.4 L480.6 696.7 L483.0 697.1" fill="none" stroke="#1f2d6b" stroke-width="4.1"/>
<rect x="184.3" y="214.9" width="60.5" height="13" fill="#fff" fill-opacity="0.92"/>
<text x="185.8" y="226.5" font-size="13.8" font-weight="bold" textLength="57.5" lengthAdjust="spacingAndGlyphs" fill="#0c0c0c" stroke="#0c0c0c" stroke-width="0.7">4SR6/58-F</text>
<rect x="184.3" y="338.1" width="60.5" height="13" fill="#fff" fill-opacity="0.92"/>
<text x="185.8" y="349.7" font-size="13.8" font-weight="bold" textLength="57.5" lengthAdjust="spacingAndGlyphs" fill="#0c0c0c" stroke="#0c0c0c" stroke-width="0.7">4SR6/43-F</text>
<rect x="184.3" y="430.6" width="60.5" height="13" fill="#fff" fill-opacity="0.92"/>
<text x="185.8" y="442.2" font-size="13.8" font-weight="bold" textLength="57.5" lengthAdjust="spacingAndGlyphs" fill="#0c0c0c" stroke="#0c0c0c" stroke-width="0.7">4SR6/32-F</text>
<rect x="184.3" y="496.7" width="60.5" height="13" fill="#fff" fill-opacity="0.92"/>
<text x="185.8" y="508.3" font-size="13.8" font-weight="bold" textLength="57.5" lengthAdjust="spacingAndGlyphs" fill="#0c0c0c" stroke="#0c0c0c" stroke-width="0.7">4SR6/24-F</text>
<rect x="184.3" y="554.1" width="60.5" height="13" fill="#fff" fill-opacity="0.92"/>
<text x="185.8" y="565.7" font-size="13.8" font-weight="bold" textLength="57.5" lengthAdjust="spacingAndGlyphs" fill="#0c0c0c" stroke="#0c0c0c" stroke-width="0.7">4SR6/17-F</text>
<rect x="184.3" y="587.6" width="60.5" height="13" fill="#fff" fill-opacity="0.92"/>
<text x="185.8" y="599.2" font-size="13.8" font-weight="bold" textLength="57.5" lengthAdjust="spacingAndGlyphs" fill="#0c0c0c" stroke="#0c0c0c" stroke-width="0.7">4SR6/13-F</text>
<rect x="184.3" y="620.1" width="54.0" height="13" fill="#fff" fill-opacity="0.92"/>
<text x="185.8" y="631.7" font-size="13.8" font-weight="bold" textLength="51.0" lengthAdjust="spacingAndGlyphs" fill="#0c0c0c" stroke="#0c0c0c" stroke-width="0.7">4SR6/9-F</text>
<rect x="184.3" y="644.6" width="54.0" height="13" fill="#fff" fill-opacity="0.92"/>
<text x="185.8" y="656.2" font-size="13.8" font-weight="bold" textLength="51.0" lengthAdjust="spacingAndGlyphs" fill="#0c0c0c" stroke="#0c0c0c" stroke-width="0.7">4SR6/6-F</text>
<rect x="184.3" y="681.5" width="54.0" height="13" fill="#fff" fill-opacity="0.92"/>
<text x="185.8" y="693.1" font-size="13.8" font-weight="bold" textLength="51.0" lengthAdjust="spacingAndGlyphs" fill="#0c0c0c" stroke="#0c0c0c" stroke-width="0.7">4SR6/4-F</text>
<text x="390.7" y="182.5" font-size="14.3" stroke="#111" stroke-width="0.32" textLength="6.0" lengthAdjust="spacingAndGlyphs" fill="#111">η</text>
<text x="400.0" y="182.5" font-size="14.3" stroke="#111" stroke-width="0.32" textLength="9.5" lengthAdjust="spacingAndGlyphs" fill="#111">=</text>
<text x="263.7" y="305.5" font-size="12" font-weight="bold" stroke="#111" stroke-width="0.5" text-anchor="end" textLength="20.0" lengthAdjust="spacingAndGlyphs" fill="#111">51.6</text>
<text x="488.2" y="305.5" font-size="12" font-weight="bold" stroke="#111" stroke-width="0.5" textLength="20.0" lengthAdjust="spacingAndGlyphs" fill="#111">52.5</text>
<text x="413.7" y="182.5" font-size="14.3" font-weight="bold" stroke="#111" stroke-width="0.5" textLength="38.5" lengthAdjust="spacingAndGlyphs" fill="#111">66.5%</text>
<rect x="124.5" y="124.7" width="418.79999999999995" height="584.9" fill="none" stroke="#111" stroke-width="2.2"/>
<rect x="429.7" y="123.6" width="114.7" height="30.3" fill="#24397f"/>
<text x="443.5" y="148.4" font-size="25.6" font-weight="bold" stroke="#fff" stroke-width="0.5" textLength="85.5" lengthAdjust="spacingAndGlyphs" fill="#fff">4SR6-F</text>
<text x="119.0" y="714.5" font-size="14.2" font-weight="bold" stroke="#111" stroke-width="0.5" text-anchor="end" textLength="6.4" lengthAdjust="spacingAndGlyphs" fill="#111">0</text>
<text x="119.0" y="649.5" font-size="14.2" font-weight="bold" stroke="#111" stroke-width="0.5" text-anchor="end" textLength="12.8" lengthAdjust="spacingAndGlyphs" fill="#111">50</text>
<text x="119.0" y="584.5" font-size="14.2" font-weight="bold" stroke="#111" stroke-width="0.5" text-anchor="end" textLength="19.2" lengthAdjust="spacingAndGlyphs" fill="#111">100</text>
<text x="119.0" y="519.5" font-size="14.2" font-weight="bold" stroke="#111" stroke-width="0.5" text-anchor="end" textLength="19.2" lengthAdjust="spacingAndGlyphs" fill="#111">150</text>
<text x="119.0" y="454.5" font-size="14.2" font-weight="bold" stroke="#111" stroke-width="0.5" text-anchor="end" textLength="19.2" lengthAdjust="spacingAndGlyphs" fill="#111">200</text>
<text x="119.0" y="389.6" font-size="14.2" font-weight="bold" stroke="#111" stroke-width="0.5" text-anchor="end" textLength="19.2" lengthAdjust="spacingAndGlyphs" fill="#111">250</text>
<text x="119.0" y="324.6" font-size="14.2" font-weight="bold" stroke="#111" stroke-width="0.5" text-anchor="end" textLength="19.2" lengthAdjust="spacingAndGlyphs" fill="#111">300</text>
<text x="119.0" y="259.6" font-size="14.2" font-weight="bold" stroke="#111" stroke-width="0.5" text-anchor="end" textLength="19.2" lengthAdjust="spacingAndGlyphs" fill="#111">350</text>
<text x="119.0" y="194.6" font-size="14.2" font-weight="bold" stroke="#111" stroke-width="0.5" text-anchor="end" textLength="19.2" lengthAdjust="spacingAndGlyphs" fill="#111">400</text>
<text x="119.0" y="129.6" font-size="14.2" font-weight="bold" stroke="#111" stroke-width="0.5" text-anchor="end" textLength="19.2" lengthAdjust="spacingAndGlyphs" fill="#111">450</text>
<text x="124.5" y="723.7" font-size="14.3" font-weight="bold" stroke="#111" stroke-width="0.5" text-anchor="middle" textLength="6.3" lengthAdjust="spacingAndGlyphs" fill="#111">0</text>
<text x="184.2" y="723.7" font-size="14.3" font-weight="bold" stroke="#111" stroke-width="0.5" text-anchor="middle" textLength="12.6" lengthAdjust="spacingAndGlyphs" fill="#111">25</text>
<text x="244.0" y="723.7" font-size="14.3" font-weight="bold" stroke="#111" stroke-width="0.5" text-anchor="middle" textLength="12.6" lengthAdjust="spacingAndGlyphs" fill="#111">50</text>
<text x="303.8" y="723.7" font-size="14.3" font-weight="bold" stroke="#111" stroke-width="0.5" text-anchor="middle" textLength="12.6" lengthAdjust="spacingAndGlyphs" fill="#111">75</text>
<text x="363.5" y="723.7" font-size="14.3" font-weight="bold" stroke="#111" stroke-width="0.5" text-anchor="middle" textLength="18.9" lengthAdjust="spacingAndGlyphs" fill="#111">100</text>
<text x="423.2" y="723.7" font-size="14.3" font-weight="bold" stroke="#111" stroke-width="0.5" text-anchor="middle" textLength="18.9" lengthAdjust="spacingAndGlyphs" fill="#111">125</text>
<text x="483.0" y="723.7" font-size="14.3" font-weight="bold" stroke="#111" stroke-width="0.5" text-anchor="middle" textLength="18.9" lengthAdjust="spacingAndGlyphs" fill="#111">150</text>
<text x="542.2" y="723.1" font-size="14" font-weight="bold" stroke="#111" stroke-width="0.5" text-anchor="end" textLength="28.5" lengthAdjust="spacingAndGlyphs" fill="#111">l/min</text>
<g stroke="#111" stroke-width="1.2"><line x1="123.9" y1="733.6" x2="543.8" y2="733.6"/><line x1="124.50" y1="733.6" x2="124.50" y2="738.2"/><line x1="144.42" y1="733.6" x2="144.42" y2="737.2"/><line x1="164.33" y1="733.6" x2="164.33" y2="738.2"/><line x1="184.25" y1="733.6" x2="184.25" y2="737.2"/><line x1="204.17" y1="733.6" x2="204.17" y2="738.2"/><line x1="224.08" y1="733.6" x2="224.08" y2="737.2"/><line x1="244.00" y1="733.6" x2="244.00" y2="738.2"/><line x1="263.92" y1="733.6" x2="263.92" y2="737.2"/><line x1="283.83" y1="733.6" x2="283.83" y2="738.2"/><line x1="303.75" y1="733.6" x2="303.75" y2="737.2"/><line x1="323.67" y1="733.6" x2="323.67" y2="738.2"/><line x1="343.58" y1="733.6" x2="343.58" y2="737.2"/><line x1="363.50" y1="733.6" x2="363.50" y2="738.2"/><line x1="383.42" y1="733.6" x2="383.42" y2="737.2"/><line x1="403.33" y1="733.6" x2="403.33" y2="738.2"/><line x1="423.25" y1="733.6" x2="423.25" y2="737.2"/><line x1="443.17" y1="733.6" x2="443.17" y2="738.2"/><line x1="463.08" y1="733.6" x2="463.08" y2="737.2"/><line x1="483.00" y1="733.6" x2="483.00" y2="738.2"/><line x1="502.92" y1="733.6" x2="502.92" y2="737.2"/><line x1="522.83" y1="733.6" x2="522.83" y2="738.2"/><line x1="542.75" y1="733.6" x2="542.75" y2="737.2"/></g>
<text x="124.5" y="748.8" font-size="12" stroke="#222" stroke-width="0.32" text-anchor="middle" textLength="4.9" lengthAdjust="spacingAndGlyphs" fill="#222">0</text>
<text x="164.3" y="748.8" font-size="12" stroke="#222" stroke-width="0.32" text-anchor="middle" textLength="4.9" lengthAdjust="spacingAndGlyphs" fill="#222">1</text>
<text x="204.2" y="748.8" font-size="12" stroke="#222" stroke-width="0.32" text-anchor="middle" textLength="4.9" lengthAdjust="spacingAndGlyphs" fill="#222">2</text>
<text x="244.0" y="748.8" font-size="12" stroke="#222" stroke-width="0.32" text-anchor="middle" textLength="4.9" lengthAdjust="spacingAndGlyphs" fill="#222">3</text>
<text x="283.8" y="748.8" font-size="12" stroke="#222" stroke-width="0.32" text-anchor="middle" textLength="4.9" lengthAdjust="spacingAndGlyphs" fill="#222">4</text>
<text x="323.7" y="748.8" font-size="12" stroke="#222" stroke-width="0.32" text-anchor="middle" textLength="4.9" lengthAdjust="spacingAndGlyphs" fill="#222">5</text>
<text x="363.5" y="748.8" font-size="12" stroke="#222" stroke-width="0.32" text-anchor="middle" textLength="4.9" lengthAdjust="spacingAndGlyphs" fill="#222">6</text>
<text x="403.3" y="748.8" font-size="12" stroke="#222" stroke-width="0.32" text-anchor="middle" textLength="4.9" lengthAdjust="spacingAndGlyphs" fill="#222">7</text>
<text x="443.2" y="748.8" font-size="12" stroke="#222" stroke-width="0.32" text-anchor="middle" textLength="4.9" lengthAdjust="spacingAndGlyphs" fill="#222">8</text>
<text x="483.0" y="748.8" font-size="12" stroke="#222" stroke-width="0.32" text-anchor="middle" textLength="4.9" lengthAdjust="spacingAndGlyphs" fill="#222">9</text>
<text x="543.0" y="747.6" font-size="12" stroke="#222" stroke-width="0.2" text-anchor="end" fill="#222" textLength="20.5" lengthAdjust="spacingAndGlyphs">m<tspan font-size="7" dy="-4.2">3</tspan><tspan dy="4.2">/h</tspan></text>
<line x1="123.5" y1="777" x2="544.3" y2="777" stroke="#111" stroke-width="2.2"/>
<text x="316.7" y="769.3" font-size="14.3" font-weight="bold" stroke="#111" stroke-width="0.7" textLength="11.8" lengthAdjust="spacingAndGlyphs" fill="#111">Q</text>
<path d="M340.1 760.2 L346.9 765.4 L340.1 770.6 Z" fill="#111"/>
<line x1="73.1" y1="124" x2="73.1" y2="710.6" stroke="#111" stroke-width="2"/>
<text transform="translate(90.5,451) rotate(-90)" font-size="17" font-weight="bold" fill="#111" stroke="#111" stroke-width="0.9" textLength="43" lengthAdjust="spacingAndGlyphs" style="white-space:pre">H  (m)</text>
<path d="M79.9 396.2 L84.7 391 L89.5 396.2 Z" fill="#111"/>
<g stroke="#111" stroke-width="1.2"><line x1="124.0" y1="100.3" x2="543.0" y2="100.3"/><line x1="124.50" y1="100.3" x2="124.50" y2="95.7"/><line x1="142.59" y1="100.3" x2="142.59" y2="95.7"/><line x1="160.69" y1="100.3" x2="160.69" y2="95.7"/><line x1="178.78" y1="100.3" x2="178.78" y2="95.7"/><line x1="196.88" y1="100.3" x2="196.88" y2="95.7"/><line x1="214.97" y1="100.3" x2="214.97" y2="95.7"/><line x1="233.07" y1="100.3" x2="233.07" y2="95.7"/><line x1="251.16" y1="100.3" x2="251.16" y2="95.7"/><line x1="269.25" y1="100.3" x2="269.25" y2="95.7"/><line x1="287.35" y1="100.3" x2="287.35" y2="95.7"/><line x1="305.44" y1="100.3" x2="305.44" y2="95.7"/><line x1="323.54" y1="100.3" x2="323.54" y2="95.7"/><line x1="341.63" y1="100.3" x2="341.63" y2="95.7"/><line x1="359.73" y1="100.3" x2="359.73" y2="95.7"/><line x1="377.82" y1="100.3" x2="377.82" y2="95.7"/><line x1="395.91" y1="100.3" x2="395.91" y2="95.7"/><line x1="414.01" y1="100.3" x2="414.01" y2="95.7"/><line x1="432.10" y1="100.3" x2="432.10" y2="95.7"/><line x1="450.20" y1="100.3" x2="450.20" y2="95.7"/><line x1="468.29" y1="100.3" x2="468.29" y2="95.7"/><line x1="486.39" y1="100.3" x2="486.39" y2="95.7"/><line x1="504.48" y1="100.3" x2="504.48" y2="95.7"/><line x1="522.57" y1="100.3" x2="522.57" y2="95.7"/><line x1="540.67" y1="100.3" x2="540.67" y2="95.7"/><line x1="124.50" y1="124.7" x2="124.50" y2="119.7"/><line x1="146.23" y1="124.7" x2="146.23" y2="119.7"/><line x1="167.96" y1="124.7" x2="167.96" y2="119.7"/><line x1="189.69" y1="124.7" x2="189.69" y2="119.7"/><line x1="211.42" y1="124.7" x2="211.42" y2="119.7"/><line x1="233.15" y1="124.7" x2="233.15" y2="119.7"/><line x1="254.88" y1="124.7" x2="254.88" y2="119.7"/><line x1="276.61" y1="124.7" x2="276.61" y2="119.7"/><line x1="298.34" y1="124.7" x2="298.34" y2="119.7"/><line x1="320.07" y1="124.7" x2="320.07" y2="119.7"/><line x1="341.80" y1="124.7" x2="341.80" y2="119.7"/><line x1="363.53" y1="124.7" x2="363.53" y2="119.7"/><line x1="385.26" y1="124.7" x2="385.26" y2="119.7"/><line x1="406.99" y1="124.7" x2="406.99" y2="119.7"/><line x1="428.72" y1="124.7" x2="428.72" y2="119.7"/><line x1="450.45" y1="124.7" x2="450.45" y2="119.7"/><line x1="472.18" y1="124.7" x2="472.18" y2="119.7"/><line x1="493.92" y1="124.7" x2="493.92" y2="119.7"/><line x1="515.65" y1="124.7" x2="515.65" y2="119.7"/><line x1="537.38" y1="124.7" x2="537.38" y2="119.7"/></g>
<text x="124.5" y="94.8" font-size="12" stroke="#222" stroke-width="0.32" text-anchor="middle" textLength="4.7" lengthAdjust="spacingAndGlyphs" fill="#222">0</text>
<text x="215.0" y="94.8" font-size="12" stroke="#222" stroke-width="0.32" text-anchor="middle" textLength="9.4" lengthAdjust="spacingAndGlyphs" fill="#222">10</text>
<text x="305.4" y="94.8" font-size="12" stroke="#222" stroke-width="0.32" text-anchor="middle" textLength="9.4" lengthAdjust="spacingAndGlyphs" fill="#222">20</text>
<text x="395.9" y="94.8" font-size="12" stroke="#222" stroke-width="0.32" text-anchor="middle" textLength="9.4" lengthAdjust="spacingAndGlyphs" fill="#222">30</text>
<text x="486.4" y="94.8" font-size="12" stroke="#222" stroke-width="0.32" text-anchor="middle" textLength="9.4" lengthAdjust="spacingAndGlyphs" fill="#222">40</text>
<text x="124.5" y="119.0" font-size="12" stroke="#222" stroke-width="0.32" text-anchor="middle" textLength="4.7" lengthAdjust="spacingAndGlyphs" fill="#222">0</text>
<text x="233.2" y="119.0" font-size="12" stroke="#222" stroke-width="0.32" text-anchor="middle" textLength="9.4" lengthAdjust="spacingAndGlyphs" fill="#222">10</text>
<text x="341.8" y="119.0" font-size="12" stroke="#222" stroke-width="0.32" text-anchor="middle" textLength="9.4" lengthAdjust="spacingAndGlyphs" fill="#222">20</text>
<text x="450.5" y="119.0" font-size="12" stroke="#222" stroke-width="0.32" text-anchor="middle" textLength="9.4" lengthAdjust="spacingAndGlyphs" fill="#222">30</text>
<text x="547.5" y="92.5" font-size="12.6" stroke="#222" stroke-width="0.32" text-anchor="end" textLength="40.0" lengthAdjust="spacingAndGlyphs" fill="#222">US g.p.m.</text>
<text x="548.3" y="116.8" font-size="12.6" stroke="#222" stroke-width="0.32" text-anchor="end" textLength="44.6" lengthAdjust="spacingAndGlyphs" fill="#222">Imp g.p.m.</text>
<g stroke="#111" stroke-width="1.2"><line x1="543.3" y1="709.60" x2="548.9" y2="709.60"/><line x1="543.3" y1="689.79" x2="548.9" y2="689.79"/><line x1="543.3" y1="669.98" x2="548.9" y2="669.98"/><line x1="543.3" y1="650.17" x2="548.9" y2="650.17"/><line x1="543.3" y1="630.36" x2="548.9" y2="630.36"/><line x1="543.3" y1="610.56" x2="548.9" y2="610.56"/><line x1="543.3" y1="590.75" x2="548.9" y2="590.75"/><line x1="543.3" y1="570.94" x2="548.9" y2="570.94"/><line x1="543.3" y1="551.13" x2="548.9" y2="551.13"/><line x1="543.3" y1="531.32" x2="548.9" y2="531.32"/><line x1="543.3" y1="511.51" x2="548.9" y2="511.51"/><line x1="543.3" y1="491.70" x2="548.9" y2="491.70"/><line x1="543.3" y1="471.89" x2="548.9" y2="471.89"/><line x1="543.3" y1="452.08" x2="548.9" y2="452.08"/><line x1="543.3" y1="432.27" x2="548.9" y2="432.27"/><line x1="543.3" y1="412.47" x2="548.9" y2="412.47"/><line x1="543.3" y1="392.66" x2="548.9" y2="392.66"/><line x1="543.3" y1="372.85" x2="548.9" y2="372.85"/><line x1="543.3" y1="353.04" x2="548.9" y2="353.04"/><line x1="543.3" y1="333.23" x2="548.9" y2="333.23"/><line x1="543.3" y1="313.42" x2="548.9" y2="313.42"/><line x1="543.3" y1="293.61" x2="548.9" y2="293.61"/><line x1="543.3" y1="273.80" x2="548.9" y2="273.80"/><line x1="543.3" y1="253.99" x2="548.9" y2="253.99"/><line x1="543.3" y1="234.19" x2="548.9" y2="234.19"/><line x1="543.3" y1="214.38" x2="548.9" y2="214.38"/><line x1="543.3" y1="194.57" x2="548.9" y2="194.57"/><line x1="543.3" y1="174.76" x2="548.9" y2="174.76"/><line x1="543.3" y1="154.95" x2="548.9" y2="154.95"/><line x1="543.3" y1="135.14" x2="548.9" y2="135.14"/></g>
<text x="549.1" y="714.4" font-size="12" stroke="#222" stroke-width="0.32" textLength="5.0" lengthAdjust="spacingAndGlyphs" fill="#222">0</text>
<text x="550.5" y="614.9" font-size="12" stroke="#222" stroke-width="0.32" textLength="15.0" lengthAdjust="spacingAndGlyphs" fill="#222">250</text>
<text x="550.5" y="515.8" font-size="12" stroke="#222" stroke-width="0.32" textLength="15.0" lengthAdjust="spacingAndGlyphs" fill="#222">500</text>
<text x="550.5" y="416.8" font-size="12" stroke="#222" stroke-width="0.32" textLength="15.0" lengthAdjust="spacingAndGlyphs" fill="#222">750</text>
<text x="550.5" y="317.7" font-size="12" stroke="#222" stroke-width="0.32" textLength="20.0" lengthAdjust="spacingAndGlyphs" fill="#222">1000</text>
<text x="550.5" y="218.7" font-size="12" stroke="#222" stroke-width="0.32" textLength="20.0" lengthAdjust="spacingAndGlyphs" fill="#222">1250</text>
<text x="549.3" y="134.6" font-size="12.6" stroke="#222" stroke-width="0.32" textLength="16.5" lengthAdjust="spacingAndGlyphs" fill="#222">feet</text>
<rect x="813.3" y="124.7" width="208.7" height="584.9" fill="#d5e7f2"/>
<g stroke-width="1.25"><line x1="699.48" y1="124.7" x2="699.48" y2="709.6" stroke="#868b90" stroke-opacity="0.25"/><line x1="718.45" y1="124.7" x2="718.45" y2="709.6" stroke="#6a7076" stroke-opacity="0.35"/><line x1="737.42" y1="124.7" x2="737.42" y2="709.6" stroke="#868b90" stroke-opacity="0.25"/><line x1="756.40" y1="124.7" x2="756.40" y2="709.6" stroke="#6a7076" stroke-opacity="0.35"/><line x1="775.38" y1="124.7" x2="775.38" y2="709.6" stroke="#868b90" stroke-opacity="0.25"/><line x1="794.35" y1="124.7" x2="794.35" y2="709.6" stroke="#6a7076" stroke-opacity="0.35"/><line x1="813.33" y1="124.7" x2="813.33" y2="709.6" stroke="#868b90" stroke-opacity="0.25"/><line x1="832.30" y1="124.7" x2="832.30" y2="709.6" stroke="#6a7076" stroke-opacity="0.35"/><line x1="851.27" y1="124.7" x2="851.27" y2="709.6" stroke="#868b90" stroke-opacity="0.25"/><line x1="870.25" y1="124.7" x2="870.25" y2="709.6" stroke="#6a7076" stroke-opacity="0.35"/><line x1="889.23" y1="124.7" x2="889.23" y2="709.6" stroke="#868b90" stroke-opacity="0.25"/><line x1="908.20" y1="124.7" x2="908.20" y2="709.6" stroke="#6a7076" stroke-opacity="0.35"/><line x1="927.17" y1="124.7" x2="927.17" y2="709.6" stroke="#868b90" stroke-opacity="0.25"/><line x1="946.15" y1="124.7" x2="946.15" y2="709.6" stroke="#6a7076" stroke-opacity="0.35"/><line x1="965.12" y1="124.7" x2="965.12" y2="709.6" stroke="#868b90" stroke-opacity="0.25"/><line x1="984.10" y1="124.7" x2="984.10" y2="709.6" stroke="#6a7076" stroke-opacity="0.35"/><line x1="1003.08" y1="124.7" x2="1003.08" y2="709.6" stroke="#868b90" stroke-opacity="0.25"/><line x1="1022.05" y1="124.7" x2="1022.05" y2="709.6" stroke="#6a7076" stroke-opacity="0.35"/><line x1="1041.03" y1="124.7" x2="1041.03" y2="709.6" stroke="#868b90" stroke-opacity="0.25"/><line x1="1060.00" y1="124.7" x2="1060.00" y2="709.6" stroke="#6a7076" stroke-opacity="0.35"/><line x1="1078.97" y1="124.7" x2="1078.97" y2="709.6" stroke="#868b90" stroke-opacity="0.25"/><line x1="680.5" y1="700.60" x2="1098.2" y2="700.60" stroke="#868b90" stroke-opacity="0.25"/><line x1="680.5" y1="691.60" x2="1098.2" y2="691.60" stroke="#868b90" stroke-opacity="0.25"/><line x1="680.5" y1="682.60" x2="1098.2" y2="682.60" stroke="#868b90" stroke-opacity="0.25"/><line x1="680.5" y1="673.61" x2="1098.2" y2="673.61" stroke="#868b90" stroke-opacity="0.25"/><line x1="680.5" y1="664.61" x2="1098.2" y2="664.61" stroke="#6a7076" stroke-opacity="0.35"/><line x1="680.5" y1="655.61" x2="1098.2" y2="655.61" stroke="#868b90" stroke-opacity="0.25"/><line x1="680.5" y1="646.61" x2="1098.2" y2="646.61" stroke="#868b90" stroke-opacity="0.25"/><line x1="680.5" y1="637.61" x2="1098.2" y2="637.61" stroke="#868b90" stroke-opacity="0.25"/><line x1="680.5" y1="628.61" x2="1098.2" y2="628.61" stroke="#868b90" stroke-opacity="0.25"/><line x1="680.5" y1="619.62" x2="1098.2" y2="619.62" stroke="#6a7076" stroke-opacity="0.35"/><line x1="680.5" y1="610.62" x2="1098.2" y2="610.62" stroke="#868b90" stroke-opacity="0.25"/><line x1="680.5" y1="601.62" x2="1098.2" y2="601.62" stroke="#868b90" stroke-opacity="0.25"/><line x1="680.5" y1="592.62" x2="1098.2" y2="592.62" stroke="#868b90" stroke-opacity="0.25"/><line x1="680.5" y1="583.62" x2="1098.2" y2="583.62" stroke="#868b90" stroke-opacity="0.25"/><line x1="680.5" y1="574.62" x2="1098.2" y2="574.62" stroke="#6a7076" stroke-opacity="0.35"/><line x1="680.5" y1="565.62" x2="1098.2" y2="565.62" stroke="#868b90" stroke-opacity="0.25"/><line x1="680.5" y1="556.63" x2="1098.2" y2="556.63" stroke="#868b90" stroke-opacity="0.25"/><line x1="680.5" y1="547.63" x2="1098.2" y2="547.63" stroke="#868b90" stroke-opacity="0.25"/><line x1="680.5" y1="538.63" x2="1098.2" y2="538.63" stroke="#868b90" stroke-opacity="0.25"/><line x1="680.5" y1="529.63" x2="1098.2" y2="529.63" stroke="#6a7076" stroke-opacity="0.35"/><line x1="680.5" y1="520.63" x2="1098.2" y2="520.63" stroke="#868b90" stroke-opacity="0.25"/><line x1="680.5" y1="511.63" x2="1098.2" y2="511.63" stroke="#868b90" stroke-opacity="0.25"/><line x1="680.5" y1="502.63" x2="1098.2" y2="502.63" stroke="#868b90" stroke-opacity="0.25"/><line x1="680.5" y1="493.64" x2="1098.2" y2="493.64" stroke="#868b90" stroke-opacity="0.25"/><line x1="680.5" y1="484.64" x2="1098.2" y2="484.64" stroke="#6a7076" stroke-opacity="0.35"/><line x1="680.5" y1="475.64" x2="1098.2" y2="475.64" stroke="#868b90" stroke-opacity="0.25"/><line x1="680.5" y1="466.64" x2="1098.2" y2="466.64" stroke="#868b90" stroke-opacity="0.25"/><line x1="680.5" y1="457.64" x2="1098.2" y2="457.64" stroke="#868b90" stroke-opacity="0.25"/><line x1="680.5" y1="448.64" x2="1098.2" y2="448.64" stroke="#868b90" stroke-opacity="0.25"/><line x1="680.5" y1="439.65" x2="1098.2" y2="439.65" stroke="#6a7076" stroke-opacity="0.35"/><line x1="680.5" y1="430.65" x2="1098.2" y2="430.65" stroke="#868b90" stroke-opacity="0.25"/><line x1="680.5" y1="421.65" x2="1098.2" y2="421.65" stroke="#868b90" stroke-opacity="0.25"/><line x1="680.5" y1="412.65" x2="1098.2" y2="412.65" stroke="#868b90" stroke-opacity="0.25"/><line x1="680.5" y1="403.65" x2="1098.2" y2="403.65" stroke="#868b90" stroke-opacity="0.25"/><line x1="680.5" y1="394.65" x2="1098.2" y2="394.65" stroke="#6a7076" stroke-opacity="0.35"/><line x1="680.5" y1="385.65" x2="1098.2" y2="385.65" stroke="#868b90" stroke-opacity="0.25"/><line x1="680.5" y1="376.66" x2="1098.2" y2="376.66" stroke="#868b90" stroke-opacity="0.25"/><line x1="680.5" y1="367.66" x2="1098.2" y2="367.66" stroke="#868b90" stroke-opacity="0.25"/><line x1="680.5" y1="358.66" x2="1098.2" y2="358.66" stroke="#868b90" stroke-opacity="0.25"/><line x1="680.5" y1="349.66" x2="1098.2" y2="349.66" stroke="#6a7076" stroke-opacity="0.35"/><line x1="680.5" y1="340.66" x2="1098.2" y2="340.66" stroke="#868b90" stroke-opacity="0.25"/><line x1="680.5" y1="331.66" x2="1098.2" y2="331.66" stroke="#868b90" stroke-opacity="0.25"/><line x1="680.5" y1="322.66" x2="1098.2" y2="322.66" stroke="#868b90" stroke-opacity="0.25"/><line x1="680.5" y1="313.67" x2="1098.2" y2="313.67" stroke="#868b90" stroke-opacity="0.25"/><line x1="680.5" y1="304.67" x2="1098.2" y2="304.67" stroke="#6a7076" stroke-opacity="0.35"/><line x1="680.5" y1="295.67" x2="1098.2" y2="295.67" stroke="#868b90" stroke-opacity="0.25"/><line x1="680.5" y1="286.67" x2="1098.2" y2="286.67" stroke="#868b90" stroke-opacity="0.25"/><line x1="680.5" y1="277.67" x2="1098.2" y2="277.67" stroke="#868b90" stroke-opacity="0.25"/><line x1="680.5" y1="268.67" x2="1098.2" y2="268.67" stroke="#868b90" stroke-opacity="0.25"/><line x1="680.5" y1="259.68" x2="1098.2" y2="259.68" stroke="#6a7076" stroke-opacity="0.35"/><line x1="680.5" y1="250.68" x2="1098.2" y2="250.68" stroke="#868b90" stroke-opacity="0.25"/><line x1="680.5" y1="241.68" x2="1098.2" y2="241.68" stroke="#868b90" stroke-opacity="0.25"/><line x1="680.5" y1="232.68" x2="1098.2" y2="232.68" stroke="#868b90" stroke-opacity="0.25"/><line x1="680.5" y1="223.68" x2="1098.2" y2="223.68" stroke="#868b90" stroke-opacity="0.25"/><line x1="680.5" y1="214.68" x2="1098.2" y2="214.68" stroke="#6a7076" stroke-opacity="0.35"/><line x1="680.5" y1="205.68" x2="1098.2" y2="205.68" stroke="#868b90" stroke-opacity="0.25"/><line x1="680.5" y1="196.69" x2="1098.2" y2="196.69" stroke="#868b90" stroke-opacity="0.25"/><line x1="680.5" y1="187.69" x2="1098.2" y2="187.69" stroke="#868b90" stroke-opacity="0.25"/><line x1="680.5" y1="178.69" x2="1098.2" y2="178.69" stroke="#868b90" stroke-opacity="0.25"/><line x1="680.5" y1="169.69" x2="1098.2" y2="169.69" stroke="#6a7076" stroke-opacity="0.35"/><line x1="680.5" y1="160.69" x2="1098.2" y2="160.69" stroke="#868b90" stroke-opacity="0.25"/><line x1="680.5" y1="151.69" x2="1098.2" y2="151.69" stroke="#868b90" stroke-opacity="0.25"/><line x1="680.5" y1="142.69" x2="1098.2" y2="142.69" stroke="#868b90" stroke-opacity="0.25"/><line x1="680.5" y1="133.70" x2="1098.2" y2="133.70" stroke="#868b90" stroke-opacity="0.25"/></g>
<g stroke="#4f7290" stroke-opacity="0.08" stroke-width="1.25"><line x1="813.33" y1="124.7" x2="813.33" y2="709.6"/><line x1="832.30" y1="124.7" x2="832.30" y2="709.6"/><line x1="851.27" y1="124.7" x2="851.27" y2="709.6"/><line x1="870.25" y1="124.7" x2="870.25" y2="709.6"/><line x1="889.23" y1="124.7" x2="889.23" y2="709.6"/><line x1="908.20" y1="124.7" x2="908.20" y2="709.6"/><line x1="927.17" y1="124.7" x2="927.17" y2="709.6"/><line x1="946.15" y1="124.7" x2="946.15" y2="709.6"/><line x1="965.12" y1="124.7" x2="965.12" y2="709.6"/><line x1="984.10" y1="124.7" x2="984.10" y2="709.6"/><line x1="1003.08" y1="124.7" x2="1003.08" y2="709.6"/><line x1="1022.05" y1="124.7" x2="1022.05" y2="709.6"/><line x1="813.33" y1="700.60" x2="1022.05" y2="700.60"/><line x1="813.33" y1="691.60" x2="1022.05" y2="691.60"/><line x1="813.33" y1="682.60" x2="1022.05" y2="682.60"/><line x1="813.33" y1="673.61" x2="1022.05" y2="673.61"/><line x1="813.33" y1="664.61" x2="1022.05" y2="664.61"/><line x1="813.33" y1="655.61" x2="1022.05" y2="655.61"/><line x1="813.33" y1="646.61" x2="1022.05" y2="646.61"/><line x1="813.33" y1="637.61" x2="1022.05" y2="637.61"/><line x1="813.33" y1="628.61" x2="1022.05" y2="628.61"/><line x1="813.33" y1="619.62" x2="1022.05" y2="619.62"/><line x1="813.33" y1="610.62" x2="1022.05" y2="610.62"/><line x1="813.33" y1="601.62" x2="1022.05" y2="601.62"/><line x1="813.33" y1="592.62" x2="1022.05" y2="592.62"/><line x1="813.33" y1="583.62" x2="1022.05" y2="583.62"/><line x1="813.33" y1="574.62" x2="1022.05" y2="574.62"/><line x1="813.33" y1="565.62" x2="1022.05" y2="565.62"/><line x1="813.33" y1="556.63" x2="1022.05" y2="556.63"/><line x1="813.33" y1="547.63" x2="1022.05" y2="547.63"/><line x1="813.33" y1="538.63" x2="1022.05" y2="538.63"/><line x1="813.33" y1="529.63" x2="1022.05" y2="529.63"/><line x1="813.33" y1="520.63" x2="1022.05" y2="520.63"/><line x1="813.33" y1="511.63" x2="1022.05" y2="511.63"/><line x1="813.33" y1="502.63" x2="1022.05" y2="502.63"/><line x1="813.33" y1="493.64" x2="1022.05" y2="493.64"/><line x1="813.33" y1="484.64" x2="1022.05" y2="484.64"/><line x1="813.33" y1="475.64" x2="1022.05" y2="475.64"/><line x1="813.33" y1="466.64" x2="1022.05" y2="466.64"/><line x1="813.33" y1="457.64" x2="1022.05" y2="457.64"/><line x1="813.33" y1="448.64" x2="1022.05" y2="448.64"/><line x1="813.33" y1="439.65" x2="1022.05" y2="439.65"/><line x1="813.33" y1="430.65" x2="1022.05" y2="430.65"/><line x1="813.33" y1="421.65" x2="1022.05" y2="421.65"/><line x1="813.33" y1="412.65" x2="1022.05" y2="412.65"/><line x1="813.33" y1="403.65" x2="1022.05" y2="403.65"/><line x1="813.33" y1="394.65" x2="1022.05" y2="394.65"/><line x1="813.33" y1="385.65" x2="1022.05" y2="385.65"/><line x1="813.33" y1="376.66" x2="1022.05" y2="376.66"/><line x1="813.33" y1="367.66" x2="1022.05" y2="367.66"/><line x1="813.33" y1="358.66" x2="1022.05" y2="358.66"/><line x1="813.33" y1="349.66" x2="1022.05" y2="349.66"/><line x1="813.33" y1="340.66" x2="1022.05" y2="340.66"/><line x1="813.33" y1="331.66" x2="1022.05" y2="331.66"/><line x1="813.33" y1="322.66" x2="1022.05" y2="322.66"/><line x1="813.33" y1="313.67" x2="1022.05" y2="313.67"/><line x1="813.33" y1="304.67" x2="1022.05" y2="304.67"/><line x1="813.33" y1="295.67" x2="1022.05" y2="295.67"/><line x1="813.33" y1="286.67" x2="1022.05" y2="286.67"/><line x1="813.33" y1="277.67" x2="1022.05" y2="277.67"/><line x1="813.33" y1="268.67" x2="1022.05" y2="268.67"/><line x1="813.33" y1="259.68" x2="1022.05" y2="259.68"/><line x1="813.33" y1="250.68" x2="1022.05" y2="250.68"/><line x1="813.33" y1="241.68" x2="1022.05" y2="241.68"/><line x1="813.33" y1="232.68" x2="1022.05" y2="232.68"/><line x1="813.33" y1="223.68" x2="1022.05" y2="223.68"/><line x1="813.33" y1="214.68" x2="1022.05" y2="214.68"/><line x1="813.33" y1="205.68" x2="1022.05" y2="205.68"/><line x1="813.33" y1="196.69" x2="1022.05" y2="196.69"/><line x1="813.33" y1="187.69" x2="1022.05" y2="187.69"/><line x1="813.33" y1="178.69" x2="1022.05" y2="178.69"/><line x1="813.33" y1="169.69" x2="1022.05" y2="169.69"/><line x1="813.33" y1="160.69" x2="1022.05" y2="160.69"/><line x1="813.33" y1="151.69" x2="1022.05" y2="151.69"/><line x1="813.33" y1="142.69" x2="1022.05" y2="142.69"/><line x1="813.33" y1="133.70" x2="1022.05" y2="133.70"/></g>
<rect x="682.8" y="127.5" width="91" height="24" fill="#dbe5ec"/>
<text x="689.9" y="144.5" font-size="16.2" font-weight="bold" stroke="#111" stroke-width="0.5" textLength="79.5" lengthAdjust="spacingAndGlyphs" fill="#111">MEI≥ 0.40</text>
<path d="M680.5 709.4 L682.5 701.0 L684.5 692.6 L686.5 684.4 L688.5 676.2 L690.5 668.2 L692.5 660.3 L694.5 652.5 L696.5 644.8 L698.5 637.2 L700.5 629.7 L702.5 622.3 L704.5 615.0 L706.5 607.8 L708.5 600.7 L710.5 593.7 L712.5 586.7 L714.5 579.9 L716.5 573.2 L718.5 566.5 L720.5 559.9 L722.5 553.4 L724.5 547.0 L726.5 540.7 L728.5 534.5 L730.5 528.3 L732.5 522.2 L734.5 516.2 L736.5 510.3 L738.5 504.5 L740.5 498.7 L742.5 493.0 L744.5 487.4 L746.5 481.8 L748.5 476.3 L750.5 470.9 L752.5 465.6 L754.5 460.3 L756.5 455.1" fill="none" stroke="#2b7fa8" stroke-width="1.5" stroke-dasharray="3.4 3"/>
<path d="M756.5 455.1 L758.5 449.9 L760.5 444.9 L762.5 439.9 L764.5 434.9 L766.5 430.0 L768.5 425.2 L770.5 420.5 L772.5 415.8 L774.5 411.1 L776.5 406.6 L778.5 402.0 L780.5 397.6 L782.5 393.2 L784.5 388.9 L786.5 384.6 L788.5 380.4 L790.5 376.2 L792.5 372.1 L794.5 368.0 L796.5 364.0 L798.5 360.1 L800.5 356.2 L802.5 352.3 L804.5 348.6 L806.5 344.8 L808.5 341.1 L810.5 337.5 L812.5 333.9 L814.5 330.4 L816.5 327.0 L818.5 323.5 L820.5 320.2 L822.5 316.9 L824.5 313.6 L826.5 310.4 L828.5 307.2 L830.5 304.1 L832.5 301.1 L834.5 298.1 L836.5 295.1 L838.5 292.2 L840.5 289.3 L842.5 286.5 L844.5 283.8 L846.5 281.1 L848.5 278.4 L850.5 275.8 L852.5 273.3 L854.5 270.8 L856.5 268.4 L858.5 266.0 L860.5 263.6 L862.5 261.4 L864.5 259.1 L866.5 256.9 L868.5 254.8 L870.5 252.7 L872.5 250.7 L874.5 248.8 L876.5 246.9 L878.5 245.0 L880.5 243.2 L882.5 241.5 L884.5 239.8 L886.5 238.1 L888.5 236.6 L890.5 235.1 L892.5 233.6 L894.5 232.2 L896.5 230.9 L898.5 229.6 L900.5 228.4 L902.5 227.2 L904.5 226.1 L906.5 225.1 L908.5 224.1 L910.5 223.2 L912.5 222.3 L914.5 221.6 L916.5 220.9 L918.5 220.2 L920.5 219.6 L922.5 219.1 L924.5 218.7 L926.5 218.3 L928.5 218.0 L930.5 217.7 L932.5 217.6 L934.5 217.5 L936.5 217.5 L938.5 217.5 L940.5 217.7 L942.5 217.9 L944.5 218.1 L946.5 218.5 L948.5 219.0 L950.5 219.5 L952.5 220.1 L954.5 220.8 L956.5 221.5 L958.5 222.4 L960.5 223.3 L962.5 224.3 L964.5 225.4 L966.5 226.6 L968.5 227.9 L970.5 229.3 L972.5 230.7 L974.5 232.3 L976.5 233.9 L978.5 235.7 L980.5 237.5 L982.5 239.4 L984.5 241.5 L986.5 243.6 L988.5 245.8 L990.5 248.2 L992.5 250.6 L994.5 253.1 L996.5 255.8 L998.5 258.5 L1000.5 261.4 L1002.5 264.4 L1004.5 267.5 L1006.5 270.7 L1008.5 274.0 L1010.5 277.4 L1012.5 280.9 L1014.5 284.6 L1016.5 288.3 L1018.5 292.2 L1020.5 296.3 L1022.5 300.4 L1024.5 304.7 L1026.5 309.0 L1028.5 313.6 L1030.5 318.2 L1032.5 323.0 L1034.5 327.9 L1036.5 332.9 L1038.5 338.1 L1040.5 343.4 L1042.5 348.9 L1044.5 354.5 L1046.5 360.2 L1048.5 366.1 L1050.5 372.1 L1052.5 378.2 L1054.5 384.6 L1056.5 391.0 L1058.5 397.6 L1060.0 402.7" fill="none" stroke="#2b7fa8" stroke-width="1.7"/>
<circle cx="813.6" cy="332" r="2.7" fill="#1f86bc"/>
<circle cx="936.6" cy="217.7" r="2.7" fill="#1f86bc"/>
<circle cx="1060" cy="402.8" r="2.7" fill="#1f86bc"/>
<path d="M680.5 167.5 L682.4 168.1 L684.3 168.6 L686.2 169.2 L688.1 169.7 L690.0 170.3 L691.9 170.9 L693.8 171.4 L695.7 172.0 L697.6 172.6 L699.5 173.2 L701.4 173.7 L703.3 174.3 L705.2 174.9 L707.1 175.5 L709.0 176.1 L710.9 176.7 L712.8 177.3 L714.7 177.9 L716.6 178.5 L718.5 179.1 L720.3 179.7 L722.2 180.3 L724.1 180.9 L726.0 181.5 L727.9 182.1 L729.8 182.7 L731.7 183.4 L733.6 184.0 L735.5 184.6 L737.4 185.3 L739.3 185.9 L741.2 186.5 L743.1 187.2 L745.0 187.8 L746.9 188.5 L748.8 189.2 L750.7 189.8 L752.6 190.5 L754.5 191.2 L756.4 191.9" fill="none" stroke="#1f2d6b" stroke-width="3.9" stroke-dasharray="5.4 5.4" stroke-dashoffset="3.2"/>
<path d="M756.4 191.9 L758.3 192.6 L760.2 193.3 L762.1 194.0 L764.0 194.7 L765.9 195.4 L767.8 196.1 L769.7 196.8 L771.6 197.6 L773.5 198.3 L775.4 199.1 L777.3 199.8 L779.2 200.6 L781.1 201.4 L783.0 202.1 L784.9 202.9 L786.8 203.7 L788.7 204.6 L790.6 205.4 L792.5 206.2 L794.4 207.0 L796.2 207.9 L798.1 208.8 L800.0 209.6 L801.9 210.5 L803.8 211.4 L805.7 212.3 L807.6 213.3 L809.5 214.2 L811.4 215.1 L813.3 216.1 L815.2 217.1 L817.1 218.0 L819.0 219.1 L820.9 220.1 L822.8 221.1 L824.7 222.1 L826.6 223.2 L828.5 224.3 L830.4 225.4 L832.3 226.5 L834.2 227.6 L836.1 228.7 L838.0 229.9 L839.9 231.1 L841.8 232.3 L843.7 233.5 L845.6 234.7 L847.5 235.9 L849.4 237.2 L851.3 238.5 L853.2 239.8 L855.1 241.1 L857.0 242.5 L858.9 243.8 L860.8 245.2 L862.7 246.6 L864.6 248.0 L866.5 249.5 L868.4 251.0 L870.2 252.4 L872.1 254.0 L874.0 255.5 L875.9 257.1 L877.8 258.6 L879.7 260.2 L881.6 261.9 L883.5 263.5 L885.4 265.2 L887.3 266.9 L889.2 268.6 L891.1 270.4 L893.0 272.2 L894.9 274.0 L896.8 275.8 L898.7 277.7 L900.6 279.6 L902.5 281.5 L904.4 283.4 L906.3 285.4 L908.2 287.4 L910.1 289.4 L912.0 291.5 L913.9 293.5 L915.8 295.6 L917.7 297.8 L919.6 299.9 L921.5 302.1 L923.4 304.4 L925.3 306.6 L927.2 308.9 L929.1 311.2 L931.0 313.6 L932.9 315.9 L934.8 318.3 L936.7 320.8 L938.6 323.3 L940.5 325.8 L942.4 328.3 L944.3 330.9 L946.1 333.4 L948.0 336.1 L949.9 338.7 L951.8 341.4 L953.7 344.2 L955.6 346.9 L957.5 349.7 L959.4 352.5 L961.3 355.4 L963.2 358.3 L965.1 361.2 L967.0 364.2 L968.9 367.1 L970.8 370.2 L972.7 373.2 L974.6 376.3 L976.5 379.4 L978.4 382.6 L980.3 385.8 L982.2 389.0 L984.1 392.3 L986.0 395.6 L987.9 398.9 L989.8 402.3 L991.7 405.7 L993.6 409.1 L995.5 412.6 L997.4 416.1 L999.3 419.6 L1001.2 423.2 L1003.1 426.8 L1005.0 430.4 L1006.9 434.1 L1008.8 437.8 L1010.7 441.5 L1012.6 445.3 L1014.5 449.1 L1016.4 452.9 L1018.3 456.8 L1020.2 460.7 L1022.0 464.6 L1023.9 468.6 L1025.8 472.6 L1027.7 476.6 L1029.6 480.7 L1031.5 484.8 L1033.4 488.9 L1035.3 493.1 L1037.2 497.3 L1039.1 501.5 L1041.0 505.8 L1042.9 510.1 L1044.8 514.4 L1046.7 518.7 L1048.6 523.1 L1050.5 527.5 L1052.4 531.9 L1054.3 536.4 L1056.2 540.9 L1058.1 545.4 L1060.0 550.0" fill="none" stroke="#1f2d6b" stroke-width="4.1"/>
<path d="M680.5 306.2 L682.4 306.6 L684.3 307.0 L686.2 307.4 L688.1 307.8 L690.0 308.3 L691.9 308.7 L693.8 309.1 L695.7 309.5 L697.6 310.0 L699.5 310.4 L701.4 310.8 L703.3 311.3 L705.2 311.7 L707.1 312.1 L709.0 312.6 L710.9 313.0 L712.8 313.4 L714.7 313.9 L716.6 314.3 L718.5 314.8 L720.3 315.2 L722.2 315.7 L724.1 316.1 L726.0 316.6 L727.9 317.1 L729.8 317.5 L731.7 318.0 L733.6 318.5 L735.5 318.9 L737.4 319.4 L739.3 319.9 L741.2 320.3 L743.1 320.8 L745.0 321.3 L746.9 321.8 L748.8 322.3 L750.7 322.8 L752.6 323.3 L754.5 323.8 L756.4 324.3" fill="none" stroke="#1f2d6b" stroke-width="3.9" stroke-dasharray="5.4 5.4" stroke-dashoffset="3.2"/>
<path d="M756.4 324.3 L758.3 324.8 L760.2 325.3 L762.1 325.9 L764.0 326.4 L765.9 326.9 L767.8 327.5 L769.7 328.0 L771.6 328.6 L773.5 329.1 L775.4 329.7 L777.3 330.2 L779.2 330.8 L781.1 331.4 L783.0 332.0 L784.9 332.5 L786.8 333.1 L788.7 333.8 L790.6 334.4 L792.5 335.0 L794.4 335.6 L796.2 336.2 L798.1 336.9 L800.0 337.5 L801.9 338.2 L803.8 338.9 L805.7 339.5 L807.6 340.2 L809.5 340.9 L811.4 341.6 L813.3 342.3 L815.2 343.1 L817.1 343.8 L819.0 344.5 L820.9 345.3 L822.8 346.1 L824.7 346.8 L826.6 347.6 L828.5 348.4 L830.4 349.2 L832.3 350.1 L834.2 350.9 L836.1 351.7 L838.0 352.6 L839.9 353.5 L841.8 354.4 L843.7 355.3 L845.6 356.2 L847.5 357.1 L849.4 358.0 L851.3 359.0 L853.2 360.0 L855.1 361.0 L857.0 362.0 L858.9 363.0 L860.8 364.0 L862.7 365.0 L864.6 366.1 L866.5 367.2 L868.4 368.3 L870.2 369.4 L872.1 370.5 L874.0 371.7 L875.9 372.8 L877.8 374.0 L879.7 375.2 L881.6 376.4 L883.5 377.6 L885.4 378.9 L887.3 380.2 L889.2 381.4 L891.1 382.8 L893.0 384.1 L894.9 385.4 L896.8 386.8 L898.7 388.2 L900.6 389.6 L902.5 391.0 L904.4 392.4 L906.3 393.9 L908.2 395.4 L910.1 396.9 L912.0 398.4 L913.9 400.0 L915.8 401.5 L917.7 403.1 L919.6 404.7 L921.5 406.4 L923.4 408.0 L925.3 409.7 L927.2 411.4 L929.1 413.1 L931.0 414.9 L932.9 416.6 L934.8 418.4 L936.7 420.2 L938.6 422.1 L940.5 423.9 L942.4 425.8 L944.3 427.7 L946.1 429.7 L948.0 431.6 L949.9 433.6 L951.8 435.6 L953.7 437.6 L955.6 439.7 L957.5 441.8 L959.4 443.9 L961.3 446.0 L963.2 448.2 L965.1 450.3 L967.0 452.5 L968.9 454.8 L970.8 457.0 L972.7 459.3 L974.6 461.6 L976.5 463.9 L978.4 466.3 L980.3 468.6 L982.2 471.0 L984.1 473.5 L986.0 475.9 L987.9 478.4 L989.8 480.9 L991.7 483.4 L993.6 486.0 L995.5 488.6 L997.4 491.2 L999.3 493.8 L1001.2 496.4 L1003.1 499.1 L1005.0 501.8 L1006.9 504.6 L1008.8 507.3 L1010.7 510.1 L1012.6 512.9 L1014.5 515.7 L1016.4 518.6 L1018.3 521.5 L1020.2 524.4 L1022.0 527.3 L1023.9 530.2 L1025.8 533.2 L1027.7 536.2 L1029.6 539.3 L1031.5 542.3 L1033.4 545.4 L1035.3 548.5 L1037.2 551.6 L1039.1 554.7 L1041.0 557.9 L1042.9 561.1 L1044.8 564.3 L1046.7 567.6 L1048.6 570.8 L1050.5 574.1 L1052.4 577.4 L1054.3 580.7 L1056.2 584.1 L1058.1 587.4 L1060.0 590.8" fill="none" stroke="#1f2d6b" stroke-width="4.1"/>
<path d="M680.5 407.0 L682.4 407.4 L684.3 407.7 L686.2 408.0 L688.1 408.3 L690.0 408.6 L691.9 408.9 L693.8 409.2 L695.7 409.6 L697.6 409.9 L699.5 410.2 L701.4 410.5 L703.3 410.8 L705.2 411.2 L707.1 411.5 L709.0 411.8 L710.9 412.2 L712.8 412.5 L714.7 412.8 L716.6 413.2 L718.5 413.5 L720.3 413.8 L722.2 414.2 L724.1 414.5 L726.0 414.8 L727.9 415.2 L729.8 415.5 L731.7 415.9 L733.6 416.2 L735.5 416.6 L737.4 416.9 L739.3 417.3 L741.2 417.7 L743.1 418.0 L745.0 418.4 L746.9 418.8 L748.8 419.1 L750.7 419.5 L752.6 419.9 L754.5 420.3 L756.4 420.6" fill="none" stroke="#1f2d6b" stroke-width="3.9" stroke-dasharray="5.4 5.4" stroke-dashoffset="3.2"/>
<path d="M756.4 420.6 L758.3 421.0 L760.2 421.4 L762.1 421.8 L764.0 422.2 L765.9 422.6 L767.8 423.0 L769.7 423.4 L771.6 423.8 L773.5 424.2 L775.4 424.6 L777.3 425.1 L779.2 425.5 L781.1 425.9 L783.0 426.4 L784.9 426.8 L786.8 427.3 L788.7 427.7 L790.6 428.2 L792.5 428.6 L794.4 429.1 L796.2 429.6 L798.1 430.1 L800.0 430.6 L801.9 431.0 L803.8 431.5 L805.7 432.1 L807.6 432.6 L809.5 433.1 L811.4 433.6 L813.3 434.2 L815.2 434.7 L817.1 435.2 L819.0 435.8 L820.9 436.4 L822.8 436.9 L824.7 437.5 L826.6 438.1 L828.5 438.7 L830.4 439.3 L832.3 439.9 L834.2 440.6 L836.1 441.2 L838.0 441.9 L839.9 442.5 L841.8 443.2 L843.7 443.8 L845.6 444.5 L847.5 445.2 L849.4 445.9 L851.3 446.7 L853.2 447.4 L855.1 448.1 L857.0 448.9 L858.9 449.6 L860.8 450.4 L862.7 451.2 L864.6 452.0 L866.5 452.8 L868.4 453.6 L870.2 454.4 L872.1 455.3 L874.0 456.1 L875.9 457.0 L877.8 457.9 L879.7 458.8 L881.6 459.7 L883.5 460.6 L885.4 461.6 L887.3 462.5 L889.2 463.5 L891.1 464.5 L893.0 465.5 L894.9 466.5 L896.8 467.5 L898.7 468.5 L900.6 469.6 L902.5 470.6 L904.4 471.7 L906.3 472.8 L908.2 473.9 L910.1 475.1 L912.0 476.2 L913.9 477.4 L915.8 478.6 L917.7 479.7 L919.6 481.0 L921.5 482.2 L923.4 483.4 L925.3 484.7 L927.2 486.0 L929.1 487.2 L931.0 488.6 L932.9 489.9 L934.8 491.2 L936.7 492.6 L938.6 494.0 L940.5 495.4 L942.4 496.8 L944.3 498.2 L946.1 499.7 L948.0 501.1 L949.9 502.6 L951.8 504.1 L953.7 505.6 L955.6 507.2 L957.5 508.7 L959.4 510.3 L961.3 511.9 L963.2 513.5 L965.1 515.1 L967.0 516.8 L968.9 518.5 L970.8 520.2 L972.7 521.9 L974.6 523.6 L976.5 525.3 L978.4 527.1 L980.3 528.9 L982.2 530.7 L984.1 532.5 L986.0 534.3 L987.9 536.2 L989.8 538.1 L991.7 540.0 L993.6 541.9 L995.5 543.8 L997.4 545.8 L999.3 547.7 L1001.2 549.7 L1003.1 551.7 L1005.0 553.8 L1006.9 555.8 L1008.8 557.9 L1010.7 560.0 L1012.6 562.1 L1014.5 564.2 L1016.4 566.3 L1018.3 568.5 L1020.2 570.7 L1022.0 572.9 L1023.9 575.1 L1025.8 577.3 L1027.7 579.6 L1029.6 581.8 L1031.5 584.1 L1033.4 586.4 L1035.3 588.8 L1037.2 591.1 L1039.1 593.5 L1041.0 595.8 L1042.9 598.2 L1044.8 600.6 L1046.7 603.1 L1048.6 605.5 L1050.5 608.0 L1052.4 610.4 L1054.3 612.9 L1056.2 615.4 L1058.1 618.0 L1060.0 620.5" fill="none" stroke="#1f2d6b" stroke-width="4.1"/>
<path d="M680.5 495.3 L682.4 495.5 L684.3 495.7 L686.2 495.9 L688.1 496.2 L690.0 496.4 L691.9 496.6 L693.8 496.8 L695.7 497.1 L697.6 497.3 L699.5 497.5 L701.4 497.7 L703.3 498.0 L705.2 498.2 L707.1 498.4 L709.0 498.7 L710.9 498.9 L712.8 499.1 L714.7 499.4 L716.6 499.6 L718.5 499.9 L720.3 500.1 L722.2 500.3 L724.1 500.6 L726.0 500.8 L727.9 501.1 L729.8 501.3 L731.7 501.6 L733.6 501.8 L735.5 502.1 L737.4 502.3 L739.3 502.6 L741.2 502.8 L743.1 503.1 L745.0 503.3 L746.9 503.6 L748.8 503.8 L750.7 504.1 L752.6 504.4 L754.5 504.6 L756.4 504.9" fill="none" stroke="#1f2d6b" stroke-width="3.9" stroke-dasharray="5.4 5.4" stroke-dashoffset="3.2"/>
<path d="M756.4 504.9 L758.3 505.2 L760.2 505.5 L762.1 505.7 L764.0 506.0 L765.9 506.3 L767.8 506.6 L769.7 506.9 L771.6 507.2 L773.5 507.5 L775.4 507.8 L777.3 508.1 L779.2 508.4 L781.1 508.7 L783.0 509.0 L784.9 509.3 L786.8 509.6 L788.7 509.9 L790.6 510.3 L792.5 510.6 L794.4 510.9 L796.2 511.3 L798.1 511.6 L800.0 511.9 L801.9 512.3 L803.8 512.6 L805.7 513.0 L807.6 513.4 L809.5 513.7 L811.4 514.1 L813.3 514.5 L815.2 514.9 L817.1 515.3 L819.0 515.7 L820.9 516.1 L822.8 516.5 L824.7 516.9 L826.6 517.3 L828.5 517.7 L830.4 518.2 L832.3 518.6 L834.2 519.0 L836.1 519.5 L838.0 519.9 L839.9 520.4 L841.8 520.9 L843.7 521.4 L845.6 521.8 L847.5 522.3 L849.4 522.8 L851.3 523.3 L853.2 523.9 L855.1 524.4 L857.0 524.9 L858.9 525.5 L860.8 526.0 L862.7 526.6 L864.6 527.1 L866.5 527.7 L868.4 528.3 L870.2 528.9 L872.1 529.5 L874.0 530.1 L875.9 530.7 L877.8 531.3 L879.7 531.9 L881.6 532.6 L883.5 533.2 L885.4 533.9 L887.3 534.6 L889.2 535.3 L891.1 536.0 L893.0 536.7 L894.9 537.4 L896.8 538.1 L898.7 538.8 L900.6 539.6 L902.5 540.3 L904.4 541.1 L906.3 541.9 L908.2 542.7 L910.1 543.5 L912.0 544.3 L913.9 545.1 L915.8 545.9 L917.7 546.8 L919.6 547.6 L921.5 548.5 L923.4 549.4 L925.3 550.3 L927.2 551.2 L929.1 552.1 L931.0 553.0 L932.9 554.0 L934.8 554.9 L936.7 555.9 L938.6 556.9 L940.5 557.8 L942.4 558.8 L944.3 559.9 L946.1 560.9 L948.0 561.9 L949.9 563.0 L951.8 564.0 L953.7 565.1 L955.6 566.2 L957.5 567.3 L959.4 568.4 L961.3 569.6 L963.2 570.7 L965.1 571.9 L967.0 573.0 L968.9 574.2 L970.8 575.4 L972.7 576.6 L974.6 577.8 L976.5 579.1 L978.4 580.3 L980.3 581.6 L982.2 582.9 L984.1 584.2 L986.0 585.5 L987.9 586.8 L989.8 588.1 L991.7 589.4 L993.6 590.8 L995.5 592.2 L997.4 593.6 L999.3 594.9 L1001.2 596.4 L1003.1 597.8 L1005.0 599.2 L1006.9 600.7 L1008.8 602.1 L1010.7 603.6 L1012.6 605.1 L1014.5 606.6 L1016.4 608.1 L1018.3 609.7 L1020.2 611.2 L1022.0 612.7 L1023.9 614.3 L1025.8 615.9 L1027.7 617.5 L1029.6 619.1 L1031.5 620.7 L1033.4 622.4 L1035.3 624.0 L1037.2 625.7 L1039.1 627.3 L1041.0 629.0 L1042.9 630.7 L1044.8 632.4 L1046.7 634.1 L1048.6 635.9 L1050.5 637.6 L1052.4 639.4 L1054.3 641.1 L1056.2 642.9 L1058.1 644.7 L1060.0 646.5" fill="none" stroke="#1f2d6b" stroke-width="4.1"/>
<path d="M680.5 545.7 L682.4 545.9 L684.3 546.1 L686.2 546.2 L688.1 546.4 L690.0 546.6 L691.9 546.7 L693.8 546.9 L695.7 547.1 L697.6 547.2 L699.5 547.4 L701.4 547.6 L703.3 547.8 L705.2 547.9 L707.1 548.1 L709.0 548.3 L710.9 548.5 L712.8 548.7 L714.7 548.8 L716.6 549.0 L718.5 549.2 L720.3 549.4 L722.2 549.6 L724.1 549.8 L726.0 549.9 L727.9 550.1 L729.8 550.3 L731.7 550.5 L733.6 550.7 L735.5 550.9 L737.4 551.1 L739.3 551.3 L741.2 551.5 L743.1 551.7 L745.0 551.9 L746.9 552.1 L748.8 552.3 L750.7 552.5 L752.6 552.7 L754.5 552.9 L756.4 553.1" fill="none" stroke="#1f2d6b" stroke-width="3.9" stroke-dasharray="5.4 5.4" stroke-dashoffset="3.2"/>
<path d="M756.4 553.1 L758.3 553.3 L760.2 553.5 L762.1 553.7 L764.0 553.9 L765.9 554.1 L767.8 554.4 L769.7 554.6 L771.6 554.8 L773.5 555.0 L775.4 555.3 L777.3 555.5 L779.2 555.7 L781.1 555.9 L783.0 556.2 L784.9 556.4 L786.8 556.7 L788.7 556.9 L790.6 557.2 L792.5 557.4 L794.4 557.7 L796.2 557.9 L798.1 558.2 L800.0 558.4 L801.9 558.7 L803.8 559.0 L805.7 559.3 L807.6 559.5 L809.5 559.8 L811.4 560.1 L813.3 560.4 L815.2 560.7 L817.1 561.0 L819.0 561.3 L820.9 561.6 L822.8 561.9 L824.7 562.2 L826.6 562.5 L828.5 562.9 L830.4 563.2 L832.3 563.5 L834.2 563.9 L836.1 564.2 L838.0 564.6 L839.9 564.9 L841.8 565.3 L843.7 565.7 L845.6 566.0 L847.5 566.4 L849.4 566.8 L851.3 567.2 L853.2 567.6 L855.1 568.0 L857.0 568.4 L858.9 568.8 L860.8 569.2 L862.7 569.6 L864.6 570.1 L866.5 570.5 L868.4 570.9 L870.2 571.4 L872.1 571.8 L874.0 572.3 L875.9 572.8 L877.8 573.3 L879.7 573.7 L881.6 574.2 L883.5 574.7 L885.4 575.2 L887.3 575.8 L889.2 576.3 L891.1 576.8 L893.0 577.4 L894.9 577.9 L896.8 578.5 L898.7 579.0 L900.6 579.6 L902.5 580.2 L904.4 580.8 L906.3 581.3 L908.2 582.0 L910.1 582.6 L912.0 583.2 L913.9 583.8 L915.8 584.4 L917.7 585.1 L919.6 585.7 L921.5 586.4 L923.4 587.1 L925.3 587.8 L927.2 588.5 L929.1 589.2 L931.0 589.9 L932.9 590.6 L934.8 591.3 L936.7 592.1 L938.6 592.8 L940.5 593.6 L942.4 594.3 L944.3 595.1 L946.1 595.9 L948.0 596.7 L949.9 597.5 L951.8 598.3 L953.7 599.1 L955.6 600.0 L957.5 600.8 L959.4 601.6 L961.3 602.5 L963.2 603.4 L965.1 604.3 L967.0 605.2 L968.9 606.1 L970.8 607.0 L972.7 607.9 L974.6 608.8 L976.5 609.8 L978.4 610.7 L980.3 611.7 L982.2 612.7 L984.1 613.7 L986.0 614.7 L987.9 615.7 L989.8 616.7 L991.7 617.7 L993.6 618.8 L995.5 619.8 L997.4 620.9 L999.3 621.9 L1001.2 623.0 L1003.1 624.1 L1005.0 625.2 L1006.9 626.3 L1008.8 627.4 L1010.7 628.5 L1012.6 629.7 L1014.5 630.8 L1016.4 632.0 L1018.3 633.2 L1020.2 634.3 L1022.0 635.5 L1023.9 636.7 L1025.8 637.9 L1027.7 639.2 L1029.6 640.4 L1031.5 641.6 L1033.4 642.9 L1035.3 644.1 L1037.2 645.4 L1039.1 646.7 L1041.0 648.0 L1042.9 649.3 L1044.8 650.6 L1046.7 651.9 L1048.6 653.2 L1050.5 654.5 L1052.4 655.9 L1054.3 657.2 L1056.2 658.6 L1058.1 660.0 L1060.0 661.3" fill="none" stroke="#1f2d6b" stroke-width="4.1"/>
<path d="M680.5 596.1 L682.4 596.3 L684.3 596.4 L686.2 596.5 L688.1 596.6 L690.0 596.7 L691.9 596.8 L693.8 597.0 L695.7 597.1 L697.6 597.2 L699.5 597.3 L701.4 597.4 L703.3 597.6 L705.2 597.7 L707.1 597.8 L709.0 597.9 L710.9 598.1 L712.8 598.2 L714.7 598.3 L716.6 598.4 L718.5 598.6 L720.3 598.7 L722.2 598.8 L724.1 598.9 L726.0 599.1 L727.9 599.2 L729.8 599.3 L731.7 599.5 L733.6 599.6 L735.5 599.7 L737.4 599.9 L739.3 600.0 L741.2 600.1 L743.1 600.3 L745.0 600.4 L746.9 600.5 L748.8 600.7 L750.7 600.8 L752.6 601.0 L754.5 601.1 L756.4 601.2" fill="none" stroke="#1f2d6b" stroke-width="3.9" stroke-dasharray="5.4 5.4" stroke-dashoffset="3.2"/>
<path d="M756.4 601.2 L758.3 601.4 L760.2 601.5 L762.1 601.7 L764.0 601.8 L765.9 602.0 L767.8 602.1 L769.7 602.3 L771.6 602.4 L773.5 602.6 L775.4 602.7 L777.3 602.9 L779.2 603.1 L781.1 603.2 L783.0 603.4 L784.9 603.6 L786.8 603.7 L788.7 603.9 L790.6 604.1 L792.5 604.2 L794.4 604.4 L796.2 604.6 L798.1 604.8 L800.0 605.0 L801.9 605.1 L803.8 605.3 L805.7 605.5 L807.6 605.7 L809.5 605.9 L811.4 606.1 L813.3 606.3 L815.2 606.5 L817.1 606.7 L819.0 606.9 L820.9 607.1 L822.8 607.4 L824.7 607.6 L826.6 607.8 L828.5 608.0 L830.4 608.2 L832.3 608.5 L834.2 608.7 L836.1 609.0 L838.0 609.2 L839.9 609.4 L841.8 609.7 L843.7 609.9 L845.6 610.2 L847.5 610.5 L849.4 610.7 L851.3 611.0 L853.2 611.3 L855.1 611.5 L857.0 611.8 L858.9 612.1 L860.8 612.4 L862.7 612.7 L864.6 613.0 L866.5 613.3 L868.4 613.6 L870.2 613.9 L872.1 614.2 L874.0 614.6 L875.9 614.9 L877.8 615.2 L879.7 615.5 L881.6 615.9 L883.5 616.2 L885.4 616.6 L887.3 616.9 L889.2 617.3 L891.1 617.7 L893.0 618.0 L894.9 618.4 L896.8 618.8 L898.7 619.2 L900.6 619.6 L902.5 620.0 L904.4 620.4 L906.3 620.8 L908.2 621.2 L910.1 621.7 L912.0 622.1 L913.9 622.5 L915.8 623.0 L917.7 623.4 L919.6 623.9 L921.5 624.3 L923.4 624.8 L925.3 625.3 L927.2 625.7 L929.1 626.2 L931.0 626.7 L932.9 627.2 L934.8 627.7 L936.7 628.2 L938.6 628.7 L940.5 629.3 L942.4 629.8 L944.3 630.3 L946.1 630.9 L948.0 631.4 L949.9 632.0 L951.8 632.5 L953.7 633.1 L955.6 633.7 L957.5 634.3 L959.4 634.9 L961.3 635.5 L963.2 636.1 L965.1 636.7 L967.0 637.3 L968.9 637.9 L970.8 638.6 L972.7 639.2 L974.6 639.8 L976.5 640.5 L978.4 641.2 L980.3 641.8 L982.2 642.5 L984.1 643.2 L986.0 643.9 L987.9 644.6 L989.8 645.3 L991.7 646.0 L993.6 646.7 L995.5 647.4 L997.4 648.2 L999.3 648.9 L1001.2 649.6 L1003.1 650.4 L1005.0 651.2 L1006.9 651.9 L1008.8 652.7 L1010.7 653.5 L1012.6 654.3 L1014.5 655.1 L1016.4 655.9 L1018.3 656.7 L1020.2 657.5 L1022.0 658.3 L1023.9 659.2 L1025.8 660.0 L1027.7 660.8 L1029.6 661.7 L1031.5 662.5 L1033.4 663.4 L1035.3 664.3 L1037.2 665.2 L1039.1 666.0 L1041.0 666.9 L1042.9 667.8 L1044.8 668.7 L1046.7 669.6 L1048.6 670.6 L1050.5 671.5 L1052.4 672.4 L1054.3 673.4 L1056.2 674.3 L1058.1 675.2 L1060.0 676.2" fill="none" stroke="#1f2d6b" stroke-width="4.1"/>
<path d="M680.5 621.4 L682.4 621.4 L684.3 621.5 L686.2 621.6 L688.1 621.7 L690.0 621.8 L691.9 621.9 L693.8 622.0 L695.7 622.1 L697.6 622.2 L699.5 622.3 L701.4 622.4 L703.3 622.5 L705.2 622.6 L707.1 622.7 L709.0 622.7 L710.9 622.8 L712.8 622.9 L714.7 623.0 L716.6 623.1 L718.5 623.2 L720.3 623.3 L722.2 623.4 L724.1 623.5 L726.0 623.6 L727.9 623.7 L729.8 623.8 L731.7 623.9 L733.6 624.0 L735.5 624.1 L737.4 624.2 L739.3 624.3 L741.2 624.5 L743.1 624.6 L745.0 624.7 L746.9 624.8 L748.8 624.9 L750.7 625.0 L752.6 625.1 L754.5 625.2 L756.4 625.3" fill="none" stroke="#1f2d6b" stroke-width="3.9" stroke-dasharray="5.4 5.4" stroke-dashoffset="3.2"/>
<path d="M756.4 625.3 L758.3 625.4 L760.2 625.5 L762.1 625.7 L764.0 625.8 L765.9 625.9 L767.8 626.0 L769.7 626.1 L771.6 626.2 L773.5 626.4 L775.4 626.5 L777.3 626.6 L779.2 626.7 L781.1 626.9 L783.0 627.0 L784.9 627.1 L786.8 627.3 L788.7 627.4 L790.6 627.5 L792.5 627.7 L794.4 627.8 L796.2 627.9 L798.1 628.1 L800.0 628.2 L801.9 628.4 L803.8 628.5 L805.7 628.6 L807.6 628.8 L809.5 629.0 L811.4 629.1 L813.3 629.3 L815.2 629.4 L817.1 629.6 L819.0 629.7 L820.9 629.9 L822.8 630.1 L824.7 630.2 L826.6 630.4 L828.5 630.6 L830.4 630.8 L832.3 631.0 L834.2 631.1 L836.1 631.3 L838.0 631.5 L839.9 631.7 L841.8 631.9 L843.7 632.1 L845.6 632.3 L847.5 632.5 L849.4 632.7 L851.3 632.9 L853.2 633.1 L855.1 633.3 L857.0 633.6 L858.9 633.8 L860.8 634.0 L862.7 634.2 L864.6 634.5 L866.5 634.7 L868.4 634.9 L870.2 635.2 L872.1 635.4 L874.0 635.7 L875.9 635.9 L877.8 636.2 L879.7 636.4 L881.6 636.7 L883.5 637.0 L885.4 637.3 L887.3 637.5 L889.2 637.8 L891.1 638.1 L893.0 638.4 L894.9 638.7 L896.8 639.0 L898.7 639.3 L900.6 639.6 L902.5 639.9 L904.4 640.2 L906.3 640.5 L908.2 640.9 L910.1 641.2 L912.0 641.5 L913.9 641.9 L915.8 642.2 L917.7 642.6 L919.6 642.9 L921.5 643.3 L923.4 643.6 L925.3 644.0 L927.2 644.4 L929.1 644.7 L931.0 645.1 L932.9 645.5 L934.8 645.9 L936.7 646.3 L938.6 646.7 L940.5 647.1 L942.4 647.5 L944.3 647.9 L946.1 648.4 L948.0 648.8 L949.9 649.2 L951.8 649.7 L953.7 650.1 L955.6 650.6 L957.5 651.0 L959.4 651.5 L961.3 651.9 L963.2 652.4 L965.1 652.9 L967.0 653.4 L968.9 653.9 L970.8 654.3 L972.7 654.8 L974.6 655.3 L976.5 655.9 L978.4 656.4 L980.3 656.9 L982.2 657.4 L984.1 657.9 L986.0 658.5 L987.9 659.0 L989.8 659.6 L991.7 660.1 L993.6 660.7 L995.5 661.2 L997.4 661.8 L999.3 662.4 L1001.2 663.0 L1003.1 663.6 L1005.0 664.1 L1006.9 664.7 L1008.8 665.3 L1010.7 666.0 L1012.6 666.6 L1014.5 667.2 L1016.4 667.8 L1018.3 668.4 L1020.2 669.1 L1022.0 669.7 L1023.9 670.4 L1025.8 671.0 L1027.7 671.7 L1029.6 672.3 L1031.5 673.0 L1033.4 673.7 L1035.3 674.4 L1037.2 675.0 L1039.1 675.7 L1041.0 676.4 L1042.9 677.1 L1044.8 677.8 L1046.7 678.5 L1048.6 679.2 L1050.5 680.0 L1052.4 680.7 L1054.3 681.4 L1056.2 682.1 L1058.1 682.9 L1060.0 683.6" fill="none" stroke="#1f2d6b" stroke-width="4.1"/>
<path d="M680.5 659.2 L682.4 659.2 L684.3 659.3 L686.2 659.3 L688.1 659.4 L690.0 659.4 L691.9 659.5 L693.8 659.5 L695.7 659.6 L697.6 659.6 L699.5 659.7 L701.4 659.8 L703.3 659.8 L705.2 659.9 L707.1 659.9 L709.0 660.0 L710.9 660.0 L712.8 660.1 L714.7 660.1 L716.6 660.2 L718.5 660.2 L720.3 660.3 L722.2 660.4 L724.1 660.4 L726.0 660.5 L727.9 660.5 L729.8 660.6 L731.7 660.6 L733.6 660.7 L735.5 660.8 L737.4 660.8 L739.3 660.9 L741.2 660.9 L743.1 661.0 L745.0 661.1 L746.9 661.1 L748.8 661.2 L750.7 661.2 L752.6 661.3 L754.5 661.4 L756.4 661.4" fill="none" stroke="#1f2d6b" stroke-width="3.9" stroke-dasharray="5.4 5.4" stroke-dashoffset="3.2"/>
<path d="M756.4 661.4 L758.3 661.5 L760.2 661.6 L762.1 661.6 L764.0 661.7 L765.9 661.8 L767.8 661.8 L769.7 661.9 L771.6 662.0 L773.5 662.0 L775.4 662.1 L777.3 662.2 L779.2 662.2 L781.1 662.3 L783.0 662.4 L784.9 662.5 L786.8 662.5 L788.7 662.6 L790.6 662.7 L792.5 662.8 L794.4 662.9 L796.2 662.9 L798.1 663.0 L800.0 663.1 L801.9 663.2 L803.8 663.3 L805.7 663.3 L807.6 663.4 L809.5 663.5 L811.4 663.6 L813.3 663.7 L815.2 663.8 L817.1 663.9 L819.0 664.0 L820.9 664.1 L822.8 664.2 L824.7 664.3 L826.6 664.4 L828.5 664.5 L830.4 664.6 L832.3 664.7 L834.2 664.8 L836.1 664.9 L838.0 665.0 L839.9 665.1 L841.8 665.2 L843.7 665.3 L845.6 665.4 L847.5 665.5 L849.4 665.7 L851.3 665.8 L853.2 665.9 L855.1 666.0 L857.0 666.1 L858.9 666.3 L860.8 666.4 L862.7 666.5 L864.6 666.7 L866.5 666.8 L868.4 666.9 L870.2 667.1 L872.1 667.2 L874.0 667.4 L875.9 667.5 L877.8 667.7 L879.7 667.8 L881.6 668.0 L883.5 668.1 L885.4 668.3 L887.3 668.4 L889.2 668.6 L891.1 668.7 L893.0 668.9 L894.9 669.1 L896.8 669.2 L898.7 669.4 L900.6 669.6 L902.5 669.8 L904.4 670.0 L906.3 670.1 L908.2 670.3 L910.1 670.5 L912.0 670.7 L913.9 670.9 L915.8 671.1 L917.7 671.3 L919.6 671.5 L921.5 671.7 L923.4 671.9 L925.3 672.1 L927.2 672.3 L929.1 672.5 L931.0 672.8 L932.9 673.0 L934.8 673.2 L936.7 673.4 L938.6 673.7 L940.5 673.9 L942.4 674.1 L944.3 674.4 L946.1 674.6 L948.0 674.9 L949.9 675.1 L951.8 675.4 L953.7 675.6 L955.6 675.9 L957.5 676.1 L959.4 676.4 L961.3 676.6 L963.2 676.9 L965.1 677.2 L967.0 677.5 L968.9 677.7 L970.8 678.0 L972.7 678.3 L974.6 678.6 L976.5 678.9 L978.4 679.2 L980.3 679.5 L982.2 679.8 L984.1 680.1 L986.0 680.4 L987.9 680.7 L989.8 681.0 L991.7 681.3 L993.6 681.6 L995.5 682.0 L997.4 682.3 L999.3 682.6 L1001.2 683.0 L1003.1 683.3 L1005.0 683.6 L1006.9 684.0 L1008.8 684.3 L1010.7 684.7 L1012.6 685.0 L1014.5 685.4 L1016.4 685.7 L1018.3 686.1 L1020.2 686.4 L1022.0 686.8 L1023.9 687.2 L1025.8 687.6 L1027.7 687.9 L1029.6 688.3 L1031.5 688.7 L1033.4 689.1 L1035.3 689.5 L1037.2 689.8 L1039.1 690.2 L1041.0 690.6 L1042.9 691.0 L1044.8 691.4 L1046.7 691.8 L1048.6 692.3 L1050.5 692.7 L1052.4 693.1 L1054.3 693.5 L1056.2 693.9 L1058.1 694.3 L1060.0 694.8" fill="none" stroke="#1f2d6b" stroke-width="4.1"/>
<rect x="756.0" y="175.4" width="59.5" height="13" fill="#fff" fill-opacity="0.92"/>
<text x="757.5" y="187.0" font-size="13.8" font-weight="bold" textLength="56.5" lengthAdjust="spacingAndGlyphs" fill="#0c0c0c" stroke="#0c0c0c" stroke-width="0.7">4SR8/43-F</text>
<rect x="756.0" y="309.5" width="59.5" height="13" fill="#fff" fill-opacity="0.92"/>
<text x="757.5" y="321.1" font-size="13.8" font-weight="bold" textLength="56.5" lengthAdjust="spacingAndGlyphs" fill="#0c0c0c" stroke="#0c0c0c" stroke-width="0.7">4SR8/32-F</text>
<rect x="756.0" y="405.1" width="59.5" height="13" fill="#fff" fill-opacity="0.92"/>
<text x="757.5" y="416.7" font-size="13.8" font-weight="bold" textLength="56.5" lengthAdjust="spacingAndGlyphs" fill="#0c0c0c" stroke="#0c0c0c" stroke-width="0.7">4SR8/24-F</text>
<rect x="756.0" y="489.1" width="59.5" height="13" fill="#fff" fill-opacity="0.92"/>
<text x="757.5" y="500.7" font-size="13.8" font-weight="bold" textLength="56.5" lengthAdjust="spacingAndGlyphs" fill="#0c0c0c" stroke="#0c0c0c" stroke-width="0.7">4SR8/17-F</text>
<rect x="756.0" y="537.1" width="59.5" height="13" fill="#fff" fill-opacity="0.92"/>
<text x="757.5" y="548.7" font-size="13.8" font-weight="bold" textLength="56.5" lengthAdjust="spacingAndGlyphs" fill="#0c0c0c" stroke="#0c0c0c" stroke-width="0.7">4SR8/13-F</text>
<rect x="756.0" y="586.1" width="53.0" height="13" fill="#fff" fill-opacity="0.92"/>
<text x="757.5" y="597.7" font-size="13.8" font-weight="bold" textLength="50.0" lengthAdjust="spacingAndGlyphs" fill="#0c0c0c" stroke="#0c0c0c" stroke-width="0.7">4SR8/9-F</text>
<rect x="756.0" y="609.1" width="53.0" height="13" fill="#fff" fill-opacity="0.92"/>
<text x="757.5" y="620.7" font-size="13.8" font-weight="bold" textLength="50.0" lengthAdjust="spacingAndGlyphs" fill="#0c0c0c" stroke="#0c0c0c" stroke-width="0.7">4SR8/7-F</text>
<rect x="756.0" y="646.5" width="53.0" height="13" fill="#fff" fill-opacity="0.92"/>
<text x="757.5" y="658.1" font-size="13.8" font-weight="bold" textLength="50.0" lengthAdjust="spacingAndGlyphs" fill="#0c0c0c" stroke="#0c0c0c" stroke-width="0.7">4SR8/4-F</text>
<text x="935.5" y="209.5" font-size="14.3" stroke="#111" stroke-width="0.32" textLength="6.0" lengthAdjust="spacingAndGlyphs" fill="#111">η</text>
<text x="945.0" y="209.5" font-size="14.3" stroke="#111" stroke-width="0.32" textLength="9.5" lengthAdjust="spacingAndGlyphs" fill="#111">=</text>
<text x="959.0" y="209.5" font-size="14.3" font-weight="bold" stroke="#111" stroke-width="0.5" textLength="26.0" lengthAdjust="spacingAndGlyphs" fill="#111">68%</text>
<text x="819.0" y="339.6" font-size="12" font-weight="bold" stroke="#111" stroke-width="0.5" textLength="10.5" lengthAdjust="spacingAndGlyphs" fill="#111">52</text>
<text x="1065.8" y="405.8" font-size="12" font-weight="bold" stroke="#111" stroke-width="0.5" textLength="20.0" lengthAdjust="spacingAndGlyphs" fill="#111">42.5</text>
<rect x="680.5" y="124.7" width="417.70000000000005" height="584.9" fill="none" stroke="#111" stroke-width="2.2"/>
<rect x="984.6" y="123.6" width="114.7" height="30.3" fill="#24397f"/>
<text x="998.4" y="148.4" font-size="25.6" font-weight="bold" stroke="#fff" stroke-width="0.5" textLength="85.5" lengthAdjust="spacingAndGlyphs" fill="#fff">4SR8-F</text>
<text x="675.0" y="714.5" font-size="14.2" font-weight="bold" stroke="#111" stroke-width="0.5" text-anchor="end" textLength="6.4" lengthAdjust="spacingAndGlyphs" fill="#111">0</text>
<text x="675.0" y="669.5" font-size="14.2" font-weight="bold" stroke="#111" stroke-width="0.5" text-anchor="end" textLength="12.8" lengthAdjust="spacingAndGlyphs" fill="#111">25</text>
<text x="675.0" y="624.5" font-size="14.2" font-weight="bold" stroke="#111" stroke-width="0.5" text-anchor="end" textLength="12.8" lengthAdjust="spacingAndGlyphs" fill="#111">50</text>
<text x="675.0" y="579.5" font-size="14.2" font-weight="bold" stroke="#111" stroke-width="0.5" text-anchor="end" textLength="12.8" lengthAdjust="spacingAndGlyphs" fill="#111">75</text>
<text x="675.0" y="534.5" font-size="14.2" font-weight="bold" stroke="#111" stroke-width="0.5" text-anchor="end" textLength="19.2" lengthAdjust="spacingAndGlyphs" fill="#111">100</text>
<text x="675.0" y="489.5" font-size="14.2" font-weight="bold" stroke="#111" stroke-width="0.5" text-anchor="end" textLength="19.2" lengthAdjust="spacingAndGlyphs" fill="#111">125</text>
<text x="675.0" y="444.5" font-size="14.2" font-weight="bold" stroke="#111" stroke-width="0.5" text-anchor="end" textLength="19.2" lengthAdjust="spacingAndGlyphs" fill="#111">150</text>
<text x="675.0" y="399.6" font-size="14.2" font-weight="bold" stroke="#111" stroke-width="0.5" text-anchor="end" textLength="19.2" lengthAdjust="spacingAndGlyphs" fill="#111">175</text>
<text x="675.0" y="354.6" font-size="14.2" font-weight="bold" stroke="#111" stroke-width="0.5" text-anchor="end" textLength="19.2" lengthAdjust="spacingAndGlyphs" fill="#111">200</text>
<text x="675.0" y="309.6" font-size="14.2" font-weight="bold" stroke="#111" stroke-width="0.5" text-anchor="end" textLength="19.2" lengthAdjust="spacingAndGlyphs" fill="#111">225</text>
<text x="675.0" y="264.6" font-size="14.2" font-weight="bold" stroke="#111" stroke-width="0.5" text-anchor="end" textLength="19.2" lengthAdjust="spacingAndGlyphs" fill="#111">250</text>
<text x="675.0" y="219.6" font-size="14.2" font-weight="bold" stroke="#111" stroke-width="0.5" text-anchor="end" textLength="19.2" lengthAdjust="spacingAndGlyphs" fill="#111">275</text>
<text x="675.0" y="174.6" font-size="14.2" font-weight="bold" stroke="#111" stroke-width="0.5" text-anchor="end" textLength="19.2" lengthAdjust="spacingAndGlyphs" fill="#111">300</text>
<text x="675.0" y="129.6" font-size="14.2" font-weight="bold" stroke="#111" stroke-width="0.5" text-anchor="end" textLength="19.2" lengthAdjust="spacingAndGlyphs" fill="#111">325</text>
<text x="680.5" y="723.7" font-size="14.3" font-weight="bold" stroke="#111" stroke-width="0.5" text-anchor="middle" textLength="6.3" lengthAdjust="spacingAndGlyphs" fill="#111">0</text>
<text x="718.5" y="723.7" font-size="14.3" font-weight="bold" stroke="#111" stroke-width="0.5" text-anchor="middle" textLength="12.6" lengthAdjust="spacingAndGlyphs" fill="#111">20</text>
<text x="756.4" y="723.7" font-size="14.3" font-weight="bold" stroke="#111" stroke-width="0.5" text-anchor="middle" textLength="12.6" lengthAdjust="spacingAndGlyphs" fill="#111">40</text>
<text x="794.4" y="723.7" font-size="14.3" font-weight="bold" stroke="#111" stroke-width="0.5" text-anchor="middle" textLength="12.6" lengthAdjust="spacingAndGlyphs" fill="#111">60</text>
<text x="832.3" y="723.7" font-size="14.3" font-weight="bold" stroke="#111" stroke-width="0.5" text-anchor="middle" textLength="12.6" lengthAdjust="spacingAndGlyphs" fill="#111">80</text>
<text x="870.2" y="723.7" font-size="14.3" font-weight="bold" stroke="#111" stroke-width="0.5" text-anchor="middle" textLength="18.9" lengthAdjust="spacingAndGlyphs" fill="#111">100</text>
<text x="908.2" y="723.7" font-size="14.3" font-weight="bold" stroke="#111" stroke-width="0.5" text-anchor="middle" textLength="18.9" lengthAdjust="spacingAndGlyphs" fill="#111">120</text>
<text x="946.1" y="723.7" font-size="14.3" font-weight="bold" stroke="#111" stroke-width="0.5" text-anchor="middle" textLength="18.9" lengthAdjust="spacingAndGlyphs" fill="#111">140</text>
<text x="984.1" y="723.7" font-size="14.3" font-weight="bold" stroke="#111" stroke-width="0.5" text-anchor="middle" textLength="18.9" lengthAdjust="spacingAndGlyphs" fill="#111">160</text>
<text x="1022.0" y="723.7" font-size="14.3" font-weight="bold" stroke="#111" stroke-width="0.5" text-anchor="middle" textLength="18.9" lengthAdjust="spacingAndGlyphs" fill="#111">180</text>
<text x="1060.0" y="723.7" font-size="14.3" font-weight="bold" stroke="#111" stroke-width="0.5" text-anchor="middle" textLength="18.9" lengthAdjust="spacingAndGlyphs" fill="#111">200</text>
<text x="1105.8" y="723.1" font-size="14" font-weight="bold" stroke="#111" stroke-width="0.5" text-anchor="end" textLength="28.5" lengthAdjust="spacingAndGlyphs" fill="#111">l/min</text>
<g stroke="#111" stroke-width="1.2"><line x1="679.9" y1="733.6" x2="1098.7" y2="733.6"/><line x1="680.50" y1="733.6" x2="680.50" y2="738.2"/><line x1="696.31" y1="733.6" x2="696.31" y2="737.2"/><line x1="712.12" y1="733.6" x2="712.12" y2="738.2"/><line x1="727.94" y1="733.6" x2="727.94" y2="737.2"/><line x1="743.75" y1="733.6" x2="743.75" y2="738.2"/><line x1="759.56" y1="733.6" x2="759.56" y2="737.2"/><line x1="775.38" y1="733.6" x2="775.38" y2="738.2"/><line x1="791.19" y1="733.6" x2="791.19" y2="737.2"/><line x1="807.00" y1="733.6" x2="807.00" y2="738.2"/><line x1="822.81" y1="733.6" x2="822.81" y2="737.2"/><line x1="838.62" y1="733.6" x2="838.62" y2="738.2"/><line x1="854.44" y1="733.6" x2="854.44" y2="737.2"/><line x1="870.25" y1="733.6" x2="870.25" y2="738.2"/><line x1="886.06" y1="733.6" x2="886.06" y2="737.2"/><line x1="901.88" y1="733.6" x2="901.88" y2="738.2"/><line x1="917.69" y1="733.6" x2="917.69" y2="737.2"/><line x1="933.50" y1="733.6" x2="933.50" y2="738.2"/><line x1="949.31" y1="733.6" x2="949.31" y2="737.2"/><line x1="965.12" y1="733.6" x2="965.12" y2="738.2"/><line x1="980.94" y1="733.6" x2="980.94" y2="737.2"/><line x1="996.75" y1="733.6" x2="996.75" y2="738.2"/><line x1="1012.56" y1="733.6" x2="1012.56" y2="737.2"/><line x1="1028.38" y1="733.6" x2="1028.38" y2="738.2"/><line x1="1044.19" y1="733.6" x2="1044.19" y2="737.2"/><line x1="1060.00" y1="733.6" x2="1060.00" y2="738.2"/><line x1="1075.81" y1="733.6" x2="1075.81" y2="737.2"/><line x1="1091.62" y1="733.6" x2="1091.62" y2="738.2"/></g>
<text x="680.5" y="748.8" font-size="12" stroke="#222" stroke-width="0.32" text-anchor="middle" textLength="4.9" lengthAdjust="spacingAndGlyphs" fill="#222">0</text>
<text x="712.1" y="748.8" font-size="12" stroke="#222" stroke-width="0.32" text-anchor="middle" textLength="4.9" lengthAdjust="spacingAndGlyphs" fill="#222">1</text>
<text x="743.8" y="748.8" font-size="12" stroke="#222" stroke-width="0.32" text-anchor="middle" textLength="4.9" lengthAdjust="spacingAndGlyphs" fill="#222">2</text>
<text x="775.4" y="748.8" font-size="12" stroke="#222" stroke-width="0.32" text-anchor="middle" textLength="4.9" lengthAdjust="spacingAndGlyphs" fill="#222">3</text>
<text x="807.0" y="748.8" font-size="12" stroke="#222" stroke-width="0.32" text-anchor="middle" textLength="4.9" lengthAdjust="spacingAndGlyphs" fill="#222">4</text>
<text x="838.6" y="748.8" font-size="12" stroke="#222" stroke-width="0.32" text-anchor="middle" textLength="4.9" lengthAdjust="spacingAndGlyphs" fill="#222">5</text>
<text x="870.2" y="748.8" font-size="12" stroke="#222" stroke-width="0.32" text-anchor="middle" textLength="4.9" lengthAdjust="spacingAndGlyphs" fill="#222">6</text>
<text x="901.9" y="748.8" font-size="12" stroke="#222" stroke-width="0.32" text-anchor="middle" textLength="4.9" lengthAdjust="spacingAndGlyphs" fill="#222">7</text>
<text x="933.5" y="748.8" font-size="12" stroke="#222" stroke-width="0.32" text-anchor="middle" textLength="4.9" lengthAdjust="spacingAndGlyphs" fill="#222">8</text>
<text x="965.1" y="748.8" font-size="12" stroke="#222" stroke-width="0.32" text-anchor="middle" textLength="4.9" lengthAdjust="spacingAndGlyphs" fill="#222">9</text>
<text x="996.8" y="748.8" font-size="12" stroke="#222" stroke-width="0.32" text-anchor="middle" textLength="9.8" lengthAdjust="spacingAndGlyphs" fill="#222">10</text>
<text x="1028.4" y="748.8" font-size="12" stroke="#222" stroke-width="0.32" text-anchor="middle" textLength="9.8" lengthAdjust="spacingAndGlyphs" fill="#222">11</text>
<text x="1060.0" y="748.8" font-size="12" stroke="#222" stroke-width="0.32" text-anchor="middle" textLength="9.8" lengthAdjust="spacingAndGlyphs" fill="#222">12</text>
<text x="1107.0" y="747.6" font-size="12" stroke="#222" stroke-width="0.2" text-anchor="end" fill="#222" textLength="20.5" lengthAdjust="spacingAndGlyphs">m<tspan font-size="7" dy="-4.2">3</tspan><tspan dy="4.2">/h</tspan></text>
<line x1="679.5" y1="777" x2="1099.2" y2="777" stroke="#111" stroke-width="2.2"/>
<text x="872.1" y="769.3" font-size="14.3" font-weight="bold" stroke="#111" stroke-width="0.7" textLength="11.8" lengthAdjust="spacingAndGlyphs" fill="#111">Q</text>
<path d="M895.5 760.2 L902.4 765.4 L895.5 770.6 Z" fill="#111"/>
<line x1="629.1" y1="124" x2="629.1" y2="710.6" stroke="#111" stroke-width="2"/>
<text transform="translate(646.5,451) rotate(-90)" font-size="17" font-weight="bold" fill="#111" stroke="#111" stroke-width="0.9" textLength="43" lengthAdjust="spacingAndGlyphs" style="white-space:pre">H  (m)</text>
<path d="M635.9 396.2 L640.7 391 L645.5 396.2 Z" fill="#111"/>
<g stroke="#111" stroke-width="1.2"><line x1="680.0" y1="100.3" x2="1097.9" y2="100.3"/><line x1="680.50" y1="100.3" x2="680.50" y2="95.7"/><line x1="694.87" y1="100.3" x2="694.87" y2="95.7"/><line x1="709.23" y1="100.3" x2="709.23" y2="95.7"/><line x1="723.60" y1="100.3" x2="723.60" y2="95.7"/><line x1="737.96" y1="100.3" x2="737.96" y2="95.7"/><line x1="752.33" y1="100.3" x2="752.33" y2="95.7"/><line x1="766.69" y1="100.3" x2="766.69" y2="95.7"/><line x1="781.06" y1="100.3" x2="781.06" y2="95.7"/><line x1="795.43" y1="100.3" x2="795.43" y2="95.7"/><line x1="809.79" y1="100.3" x2="809.79" y2="95.7"/><line x1="824.16" y1="100.3" x2="824.16" y2="95.7"/><line x1="838.52" y1="100.3" x2="838.52" y2="95.7"/><line x1="852.89" y1="100.3" x2="852.89" y2="95.7"/><line x1="867.25" y1="100.3" x2="867.25" y2="95.7"/><line x1="881.62" y1="100.3" x2="881.62" y2="95.7"/><line x1="895.98" y1="100.3" x2="895.98" y2="95.7"/><line x1="910.35" y1="100.3" x2="910.35" y2="95.7"/><line x1="924.72" y1="100.3" x2="924.72" y2="95.7"/><line x1="939.08" y1="100.3" x2="939.08" y2="95.7"/><line x1="953.45" y1="100.3" x2="953.45" y2="95.7"/><line x1="967.81" y1="100.3" x2="967.81" y2="95.7"/><line x1="982.18" y1="100.3" x2="982.18" y2="95.7"/><line x1="996.54" y1="100.3" x2="996.54" y2="95.7"/><line x1="1010.91" y1="100.3" x2="1010.91" y2="95.7"/><line x1="1025.28" y1="100.3" x2="1025.28" y2="95.7"/><line x1="1039.64" y1="100.3" x2="1039.64" y2="95.7"/><line x1="1054.01" y1="100.3" x2="1054.01" y2="95.7"/><line x1="1068.37" y1="100.3" x2="1068.37" y2="95.7"/><line x1="1082.74" y1="100.3" x2="1082.74" y2="95.7"/><line x1="1097.10" y1="100.3" x2="1097.10" y2="95.7"/><line x1="680.50" y1="124.7" x2="680.50" y2="119.7"/><line x1="697.75" y1="124.7" x2="697.75" y2="119.7"/><line x1="715.00" y1="124.7" x2="715.00" y2="119.7"/><line x1="732.26" y1="124.7" x2="732.26" y2="119.7"/><line x1="749.51" y1="124.7" x2="749.51" y2="119.7"/><line x1="766.76" y1="124.7" x2="766.76" y2="119.7"/><line x1="784.01" y1="124.7" x2="784.01" y2="119.7"/><line x1="801.27" y1="124.7" x2="801.27" y2="119.7"/><line x1="818.52" y1="124.7" x2="818.52" y2="119.7"/><line x1="835.77" y1="124.7" x2="835.77" y2="119.7"/><line x1="853.02" y1="124.7" x2="853.02" y2="119.7"/><line x1="870.28" y1="124.7" x2="870.28" y2="119.7"/><line x1="887.53" y1="124.7" x2="887.53" y2="119.7"/><line x1="904.78" y1="124.7" x2="904.78" y2="119.7"/><line x1="922.03" y1="124.7" x2="922.03" y2="119.7"/><line x1="939.29" y1="124.7" x2="939.29" y2="119.7"/><line x1="956.54" y1="124.7" x2="956.54" y2="119.7"/><line x1="973.79" y1="124.7" x2="973.79" y2="119.7"/><line x1="991.04" y1="124.7" x2="991.04" y2="119.7"/><line x1="1008.30" y1="124.7" x2="1008.30" y2="119.7"/><line x1="1025.55" y1="124.7" x2="1025.55" y2="119.7"/><line x1="1042.80" y1="124.7" x2="1042.80" y2="119.7"/><line x1="1060.05" y1="124.7" x2="1060.05" y2="119.7"/><line x1="1077.31" y1="124.7" x2="1077.31" y2="119.7"/><line x1="1094.56" y1="124.7" x2="1094.56" y2="119.7"/></g>
<text x="680.5" y="94.8" font-size="12" stroke="#222" stroke-width="0.32" text-anchor="middle" textLength="4.7" lengthAdjust="spacingAndGlyphs" fill="#222">0</text>
<text x="752.3" y="94.8" font-size="12" stroke="#222" stroke-width="0.32" text-anchor="middle" textLength="9.4" lengthAdjust="spacingAndGlyphs" fill="#222">10</text>
<text x="824.2" y="94.8" font-size="12" stroke="#222" stroke-width="0.32" text-anchor="middle" textLength="9.4" lengthAdjust="spacingAndGlyphs" fill="#222">20</text>
<text x="896.0" y="94.8" font-size="12" stroke="#222" stroke-width="0.32" text-anchor="middle" textLength="9.4" lengthAdjust="spacingAndGlyphs" fill="#222">30</text>
<text x="967.8" y="94.8" font-size="12" stroke="#222" stroke-width="0.32" text-anchor="middle" textLength="9.4" lengthAdjust="spacingAndGlyphs" fill="#222">40</text>
<text x="1039.6" y="94.8" font-size="12" stroke="#222" stroke-width="0.32" text-anchor="middle" textLength="9.4" lengthAdjust="spacingAndGlyphs" fill="#222">50</text>
<text x="680.5" y="119.0" font-size="12" stroke="#222" stroke-width="0.32" text-anchor="middle" textLength="4.7" lengthAdjust="spacingAndGlyphs" fill="#222">0</text>
<text x="766.8" y="119.0" font-size="12" stroke="#222" stroke-width="0.32" text-anchor="middle" textLength="9.4" lengthAdjust="spacingAndGlyphs" fill="#222">10</text>
<text x="853.0" y="119.0" font-size="12" stroke="#222" stroke-width="0.32" text-anchor="middle" textLength="9.4" lengthAdjust="spacingAndGlyphs" fill="#222">20</text>
<text x="939.3" y="119.0" font-size="12" stroke="#222" stroke-width="0.32" text-anchor="middle" textLength="9.4" lengthAdjust="spacingAndGlyphs" fill="#222">30</text>
<text x="1025.5" y="119.0" font-size="12" stroke="#222" stroke-width="0.32" text-anchor="middle" textLength="9.4" lengthAdjust="spacingAndGlyphs" fill="#222">40</text>
<text x="1102.4" y="92.5" font-size="12.6" stroke="#222" stroke-width="0.32" text-anchor="end" textLength="40.0" lengthAdjust="spacingAndGlyphs" fill="#222">US g.p.m.</text>
<text x="1103.2" y="116.8" font-size="12.6" stroke="#222" stroke-width="0.32" text-anchor="end" textLength="44.6" lengthAdjust="spacingAndGlyphs" fill="#222">Imp g.p.m.</text>
<g stroke="#111" stroke-width="1.2"><line x1="1098.2" y1="709.60" x2="1103.8" y2="709.60"/><line x1="1098.2" y1="682.17" x2="1103.8" y2="682.17"/><line x1="1098.2" y1="654.75" x2="1103.8" y2="654.75"/><line x1="1098.2" y1="627.32" x2="1103.8" y2="627.32"/><line x1="1098.2" y1="599.89" x2="1103.8" y2="599.89"/><line x1="1098.2" y1="572.46" x2="1103.8" y2="572.46"/><line x1="1098.2" y1="545.04" x2="1103.8" y2="545.04"/><line x1="1098.2" y1="517.61" x2="1103.8" y2="517.61"/><line x1="1098.2" y1="490.18" x2="1103.8" y2="490.18"/><line x1="1098.2" y1="462.75" x2="1103.8" y2="462.75"/><line x1="1098.2" y1="435.33" x2="1103.8" y2="435.33"/><line x1="1098.2" y1="407.90" x2="1103.8" y2="407.90"/><line x1="1098.2" y1="380.47" x2="1103.8" y2="380.47"/><line x1="1098.2" y1="353.04" x2="1103.8" y2="353.04"/><line x1="1098.2" y1="325.62" x2="1103.8" y2="325.62"/><line x1="1098.2" y1="298.19" x2="1103.8" y2="298.19"/><line x1="1098.2" y1="270.76" x2="1103.8" y2="270.76"/><line x1="1098.2" y1="243.33" x2="1103.8" y2="243.33"/><line x1="1098.2" y1="215.91" x2="1103.8" y2="215.91"/><line x1="1098.2" y1="188.48" x2="1103.8" y2="188.48"/><line x1="1098.2" y1="161.05" x2="1103.8" y2="161.05"/><line x1="1098.2" y1="133.62" x2="1103.8" y2="133.62"/></g>
<text x="1104.0" y="714.4" font-size="12" stroke="#222" stroke-width="0.32" textLength="5.0" lengthAdjust="spacingAndGlyphs" fill="#222">0</text>
<text x="1105.4" y="576.8" font-size="12" stroke="#222" stroke-width="0.32" textLength="15.0" lengthAdjust="spacingAndGlyphs" fill="#222">250</text>
<text x="1105.4" y="439.6" font-size="12" stroke="#222" stroke-width="0.32" textLength="15.0" lengthAdjust="spacingAndGlyphs" fill="#222">500</text>
<text x="1105.4" y="302.5" font-size="12" stroke="#222" stroke-width="0.32" textLength="15.0" lengthAdjust="spacingAndGlyphs" fill="#222">750</text>
<text x="1105.4" y="165.4" font-size="12" stroke="#222" stroke-width="0.32" textLength="20.0" lengthAdjust="spacingAndGlyphs" fill="#222">1000</text>
<text x="1104.2" y="134.6" font-size="12.6" stroke="#222" stroke-width="0.32" textLength="16.5" lengthAdjust="spacingAndGlyphs" fill="#222">feet</text>
</svg>
</body></html>
